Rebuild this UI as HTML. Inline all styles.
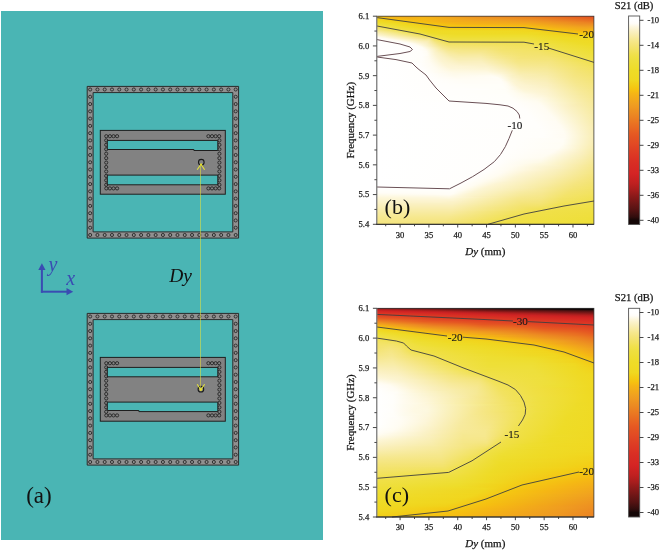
<!DOCTYPE html>
<html><head><meta charset="utf-8"><style>
html,body{margin:0;padding:0;background:#fff;}
body{width:660px;height:551px;position:relative;overflow:hidden;font-family:"Liberation Serif",serif;}
.hm{position:absolute;overflow:hidden;}
.hm>div{position:absolute;left:0;width:100%;height:1px;}
.ov{position:absolute;left:0;top:0;will-change:transform;}
.ov text.t{stroke:#1a1a1a;stroke-width:0.25px;}
.ov text.t2{stroke:#1a1a1a;stroke-width:0.12px;}
</style></head><body>
<div class="hm" style="left:377px;top:16px;width:217px;height:208px"><div style="top:0px;background:linear-gradient(90deg,#f5c411 0px,#f4b017 13px,#f3ab1a 32px,#f4b216 45px,#ee9421 94px,#ea7c22 155px,#e45223 216px)"></div><div style="top:1px;background:linear-gradient(90deg,#f4c813 0px,#f5b814 12px,#f3ae19 31px,#f5b316 46px,#ee9721 96px,#eb8522 151px,#e55722 216px)"></div><div style="top:2px;background:linear-gradient(90deg,#f3cd15 0px,#f6bb12 17px,#f4b216 33px,#f5b615 46px,#ef9b20 100px,#ee9221 130px,#eb8522 161px,#e65e22 216px)"></div><div style="top:3px;background:linear-gradient(90deg,#f1d41c 0px,#f6bf11 22px,#f5b714 36px,#f5b814 47px,#f09f20 100px,#ef9b20 122px,#ed8e22 157px,#e76622 216px)"></div><div style="top:4px;background:linear-gradient(90deg,#f0d922 0px,#f3cc14 17px,#f6bd11 38px,#f1a41e 100px,#f0a020 121px,#ee9621 154px,#e86e22 216px)"></div><div style="top:5px;background:linear-gradient(90deg,#efda25 0px,#f1d41c 17px,#f5c311 34px,#f3ae19 76px,#f2a91b 110px,#ef9d20 153px,#ea7622 216px)"></div><div style="top:6px;background:linear-gradient(90deg,#eedc29 0px,#f1d41c 23px,#f5c612 39px,#f5b714 64px,#f3ac19 104px,#f1a31e 152px,#eb7f22 216px)"></div><div style="top:7px;background:linear-gradient(90deg,#eede31 0px,#efda24 18px,#f2d21a 32px,#f5c411 51px,#f4b316 84px,#f2aa1b 151px,#ec8b22 203px,#ec8722 216px)"></div><div style="top:8px;background:linear-gradient(90deg,#eedf3a 0px,#efdb26 20px,#f1d31b 37px,#f5c612 55px,#f5b714 86px,#f3af18 152px,#ed9121 204px,#ed8f22 216px)"></div><div style="top:9px;background:linear-gradient(90deg,#f0e044 0px,#eedb26 25px,#f1d31b 43px,#f5c512 64px,#f6bc12 101px,#f5b615 150px,#ee9721 205px,#ee9621 216px)"></div><div style="top:10px;background:linear-gradient(90deg,#f1e154 0px,#f0e045 5px,#efdb26 31px,#f1d31b 48px,#f5c411 73px,#f6be11 150px,#f3ab1a 177px,#ef9d20 209px,#f09e20 216px)"></div><div style="top:11px;background:linear-gradient(90deg,#f2e266 0px,#f0e046 10px,#eedb26 36px,#f3cb14 68px,#f5c512 150px,#f4af18 180px,#f1a31f 209px,#f1a41e 216px)"></div><div style="top:12px;background:linear-gradient(90deg,#f4e475 0px,#f0e046 16px,#efdb26 42px,#f2ce16 78px,#f3cc14 150px,#f6bb12 171px,#f2a81c 207px,#f2aa1b 216px)"></div><div style="top:13px;background:linear-gradient(90deg,#f5e683 0px,#f0e045 22px,#efda24 48px,#f1d31b 81px,#f2d21a 150px,#f6bf11 176px,#f3ad19 205px,#f4af18 216px)"></div><div style="top:14px;background:linear-gradient(90deg,#f6e892 0px,#f0e046 27px,#efda24 52px,#f0d820 117px,#f1d61e 153px,#f5c311 179px,#f4b216 204px,#f5b316 216px)"></div><div style="top:15px;background:linear-gradient(90deg,#f8eba2 0px,#f0e045 33px,#efdb25 53px,#efda23 132px,#f1d51d 162px,#f5c311 188px,#f5b814 208px,#f5b913 216px)"></div><div style="top:16px;background:linear-gradient(90deg,#f9eeb1 0px,#f0e045 38px,#eedc27 54px,#f0d921 160px,#f5c311 196px,#f6bf10 216px)"></div><div style="top:17px;background:linear-gradient(90deg,#faf0c0 0px,#eedd2f 52px,#eedb27 66px,#efda24 158px,#f1d21a 181px,#f5c512 209px,#f5c411 216px)"></div><div style="top:18px;background:linear-gradient(90deg,#fbf3cc 0px,#f1e15a 42px,#efe042 48px,#eedd30 56px,#eedc28 80px,#eedc28 150px,#f1d31b 187px,#f4ca13 210px,#f4c913 216px)"></div><div style="top:19px;background:linear-gradient(90deg,#fdf6d8 0px,#f7ea9b 24px,#f2e25e 45px,#f0e045 50px,#eedf36 57px,#eedd2c 79px,#eedd2e 149px,#f1d41c 194px,#f3cd15 216px)"></div><div style="top:20px;background:linear-gradient(90deg,#fefae9 0px,#f7e997 31px,#f2e263 48px,#efe041 55px,#eede30 74px,#eede31 150px,#efda24 177px,#f2d119 216px)"></div><div style="top:21px;background:linear-gradient(90deg,#fffdf7 0px,#fcf3cd 16px,#f8eca8 31px,#f3e371 51px,#f3e371 52px,#f3e369 53px,#f1e14f 55px,#f0e045 58px,#eede35 74px,#eedf36 150px,#efdb25 179px,#f1d51d 216px)"></div><div style="top:22px;background:linear-gradient(90deg,#fffefa 0px,#fffcf2 8px,#fcf4d2 20px,#f8eca9 36px,#f5e788 48px,#f5e78a 52px,#f5e682 53px,#f3e367 55px,#f0e04a 60px,#eedf3a 74px,#eedf3b 149px,#efdb26 183px,#f0d820 216px)"></div><div style="top:23px;background:linear-gradient(90deg,#fffffe 0px,#fffcf3 13px,#f7ea9b 48px,#f7ea9a 52px,#f3e370 56px,#f0e04d 63px,#efdf3f 73px,#efdf3f 149px,#eedb26 187px,#f0d921 216px)"></div><div style="top:24px;background:linear-gradient(90deg,#ffffff 0px,#fffcf2 20px,#f9eeb3 43px,#f8eca5 52px,#f4e476 57px,#f1e152 65px,#f0e045 71px,#efe043 150px,#eedb27 191px,#efd923 216px)"></div><div style="top:25px;background:linear-gradient(90deg,#ffffff 0px,#fffdf7 23px,#fefae8 29px,#fbf2c7 40px,#f9eeb2 51px,#f7ea9c 54px,#f4e57c 58px,#f1e157 67px,#f0e049 72px,#f0e048 148px,#eedc27 195px,#efda24 216px)"></div><div style="top:26px;background:linear-gradient(90deg,#ffffff 0px,#fffefa 24px,#fffcf1 31px,#fcf4d2 40px,#faefbc 50px,#f7ea9c 55px,#f4e57c 60px,#f1e155 71px,#f1e14f 148px,#eedf37 173px,#eedb27 205px,#efda25 216px)"></div><div style="top:27px;background:linear-gradient(90deg,#ffffff 0px,#fffefb 27px,#fffdf5 34px,#fdf5d5 43px,#faf1c3 50px,#f5e685 60px,#f2e262 70px,#f2e25d 80px,#f1e153 149px,#efe042 165px,#eedc28 205px,#eedb26 216px)"></div><div style="top:28px;background:linear-gradient(90deg,#ffffff 0px,#fffefc 30px,#fffcf2 38px,#faf1c3 51px,#f5e685 62px,#f3e368 71px,#f1e157 150px,#efe043 168px,#eedc29 208px,#eedc27 216px)"></div><div style="top:29px;background:linear-gradient(90deg,#ffffff 0px,#fffefb 34px,#fffcf2 41px,#faf1c3 52px,#f5e789 63px,#f3e370 71px,#f2e264 118px,#f1e15a 152px,#efe043 172px,#eedd2b 210px,#eedc28 216px)"></div><div style="top:30px;background:linear-gradient(90deg,#ffffff 0px,#fffefc 35px,#fffdf4 43px,#f9eeb6 56px,#f5e789 65px,#f4e475 73px,#f3e36c 114px,#f2e265 129px,#f2e25b 155px,#efdf40 179px,#eedd2b 216px)"></div><div style="top:31px;background:linear-gradient(90deg,#ffffff 0px,#fffefc 37px,#fffdf4 45px,#f6e78c 66px,#f4e47b 74px,#f4e472 112px,#f3e368 127px,#f2e25d 157px,#efdf3f 184px,#eedd2d 216px)"></div><div style="top:32px;background:linear-gradient(90deg,#ffffff 0px,#fffefc 39px,#fffdf6 46px,#f6e88f 67px,#f5e580 76px,#f4e479 110px,#f3e36a 126px,#f2e25f 159px,#efe041 185px,#eedd30 216px)"></div><div style="top:33px;background:linear-gradient(90deg,#ffffff 0px,#fffefc 40px,#fffcf3 48px,#f7ea9b 66px,#f5e789 73px,#f5e683 89px,#f5e57f 109px,#f3e36d 125px,#f3e367 147px,#f2e25e 164px,#efe043 186px,#eede32 216px)"></div><div style="top:34px;background:linear-gradient(90deg,#ffffff 0px,#fffefc 42px,#fffcf2 49px,#f9eeb2 62px,#f6e890 72px,#f5e788 86px,#f5e686 107px,#f3e370 125px,#f3e368 146px,#f2e264 161px,#f1e153 177px,#f0e044 188px,#eede34 216px)"></div><div style="top:35px;background:linear-gradient(90deg,#ffffff 0px,#fffefb 43px,#fffdf6 49px,#fbf1c4 59px,#f7ea9c 70px,#f6e88d 80px,#f6e78b 107px,#f4e473 125px,#f3e36a 146px,#f3e367 161px,#f1e158 177px,#f0e045 191px,#eedf36 216px)"></div><div style="top:36px;background:linear-gradient(90deg,#ffffff 0px,#fffefb 44px,#fffcf3 50px,#fbf3cc 58px,#f7eb9f 71px,#f6e891 83px,#f6e892 104px,#f4e476 126px,#f3e36c 146px,#f3e36a 161px,#f2e25d 177px,#f0e045 194px,#eedf38 216px)"></div><div style="top:37px;background:linear-gradient(90deg,#ffffff 0px,#fffefb 44px,#fffdf5 50px,#fcf4cf 58px,#f8eba3 72px,#f7e996 83px,#f7e997 104px,#f4e479 127px,#f3e36e 146px,#f3e36c 161px,#f2e260 178px,#f0e046 197px,#eedf3a 216px)"></div><div style="top:38px;background:linear-gradient(90deg,#ffffff 0px,#fffefb 45px,#fffdf5 50px,#fcf4d1 58px,#f8eca7 73px,#f7ea9c 84px,#f7ea9e 103px,#f4e57c 127px,#f3e370 146px,#f3e36e 162px,#f2e264 178px,#f0e046 200px,#efdf3c 216px)"></div><div style="top:39px;background:linear-gradient(90deg,#ffffff 0px,#fffefb 45px,#fffdf6 50px,#fcf4d1 59px,#f8ecaa 74px,#f7eba1 85px,#f8eba3 103px,#f6e78b 118px,#f4e472 143px,#f3e371 162px,#f3e367 178px,#f0e046 204px,#efdf3f 216px)"></div><div style="top:40px;background:linear-gradient(90deg,#ffffff 0px,#fffefb 45px,#fffcf1 51px,#fcf4d0 60px,#f8edac 76px,#f8eca7 87px,#f8eca7 104px,#f5e683 128px,#f4e475 145px,#f3e372 170px,#f0e045 208px,#efe041 216px)"></div><div style="top:41px;background:linear-gradient(90deg,#ffffff 0px,#fffefb 45px,#fffcf2 51px,#fcf4d0 61px,#f8edae 78px,#f8edac 89px,#f8edac 104px,#f6e892 119px,#f4e477 144px,#f4e474 171px,#f0e046 211px,#efe043 216px)"></div><div style="top:42px;background:linear-gradient(90deg,#ffffff 0px,#fffefa 46px,#fffcf3 51px,#fcf4d0 62px,#f9eeb2 79px,#f9edb1 104px,#f7e997 119px,#f4e47a 142px,#f4e477 172px,#f0e046 214px,#f0e044 216px)"></div><div style="top:43px;background:linear-gradient(90deg,#ffffff 0px,#fffefa 46px,#fffcf1 52px,#fcf4d0 63px,#f9eeb4 81px,#f9eeb5 104px,#f7ea9d 119px,#f5e57f 140px,#f4e478 174px,#f0e046 216px)"></div><div style="top:44px;background:linear-gradient(90deg,#ffffff 0px,#fffefa 45px,#fffcf2 52px,#fcf4d1 64px,#f9efb8 82px,#f9efba 104px,#f7eba2 119px,#f5e682 140px,#f4e57b 174px,#f0e048 216px)"></div><div style="top:45px;background:linear-gradient(90deg,#ffffff 0px,#fffefa 45px,#fffcf3 52px,#fcf4d1 65px,#faf0bd 82px,#faf0be 104px,#f8eca7 119px,#f5e685 140px,#f5e57f 173px,#f0e04c 216px)"></div><div style="top:46px;background:linear-gradient(90deg,#ffffff 0px,#fffefb 43px,#fffcf2 53px,#fcf5d2 66px,#faf0c1 83px,#faf0c1 105px,#f8eca7 121px,#f5e787 141px,#f5e683 172px,#f1e150 216px)"></div><div style="top:47px;background:linear-gradient(90deg,#ffffff 0px,#fffefc 43px,#fffcf4 53px,#fcf5d3 67px,#fbf1c5 84px,#fbf1c4 106px,#f8eca8 123px,#f5e78a 142px,#f5e686 171px,#f1e153 216px)"></div><div style="top:48px;background:linear-gradient(90deg,#ffffff 0px,#fffefc 43px,#fffcf3 54px,#fdf5d4 68px,#fbf2c9 85px,#fbf2c7 107px,#f8edac 124px,#f6e88d 142px,#f5e789 171px,#f2e25e 209px,#f1e157 216px)"></div><div style="top:49px;background:linear-gradient(90deg,#ffffff 0px,#fffefc 43px,#fffcf2 55px,#fdf5d5 69px,#fcf3cd 87px,#fbf2ca 108px,#f9edaf 125px,#f6e890 143px,#f6e78c 170px,#f2e264 206px,#f1e15a 216px)"></div><div style="top:50px;background:linear-gradient(90deg,#ffffff 0px,#fffefc 44px,#fffcf2 56px,#fdf5d6 71px,#fcf4d1 95px,#fbf2ca 112px,#f6e994 143px,#f6e890 169px,#f3e366 206px,#f2e25d 216px)"></div><div style="top:51px;background:linear-gradient(90deg,#ffffff 0px,#fffefc 45px,#fffcf2 57px,#fdf6d7 72px,#fcf4cf 110px,#f9eeb5 127px,#f7e998 143px,#f6e893 169px,#f3e36b 204px,#f2e25f 216px)"></div><div style="top:52px;background:linear-gradient(90deg,#ffffff 0px,#fffefc 46px,#fffcf1 58px,#fdf6d9 74px,#fcf5d3 110px,#f9efba 127px,#f7ea9c 143px,#f6e996 169px,#f3e36f 202px,#f2e262 216px)"></div><div style="top:53px;background:linear-gradient(90deg,#ffffff 0px,#fffefc 47px,#fffcf1 59px,#fdf7dd 74px,#fdf6d6 110px,#faf0c1 126px,#f7eba0 143px,#f7e998 170px,#f3e372 201px,#f2e264 216px)"></div><div style="top:54px;background:linear-gradient(90deg,#ffffff 0px,#fffefc 48px,#fffcf1 60px,#fef8e0 74px,#fdf7dc 109px,#fbf1c6 126px,#f8eba3 143px,#f7ea9b 170px,#f4e474 201px,#f3e366 216px)"></div><div style="top:55px;background:linear-gradient(90deg,#ffffff 0px,#fffefc 49px,#fffcf0 62px,#fef9e3 76px,#fef8e0 110px,#fbf2c8 127px,#f8eca7 143px,#f7ea9e 170px,#f4e476 201px,#f3e369 216px)"></div><div style="top:56px;background:linear-gradient(90deg,#ffffff 0px,#fffefc 50px,#fffbef 64px,#fef9e6 78px,#fef9e4 111px,#fcf4cf 126px,#f8edab 143px,#f7eba1 170px,#f4e479 200px,#f3e36b 216px)"></div><div style="top:57px;background:linear-gradient(90deg,#ffffff 0px,#fffefc 51px,#fefae9 76px,#fefae8 113px,#fdf6d9 123px,#f9edaf 143px,#f8eba4 170px,#f4e57c 199px,#f3e36d 216px)"></div><div style="top:58px;background:linear-gradient(90deg,#ffffff 0px,#fffefc 52px,#fefaeb 77px,#fefbec 114px,#fef8e0 123px,#f9eeb4 142px,#f8edad 159px,#f7eba0 175px,#f5e57e 198px,#f3e36f 216px)"></div><div style="top:59px;background:linear-gradient(90deg,#ffffff 0px,#fffefc 52px,#fefbed 77px,#fffcf1 115px,#fef9e6 123px,#faf1c2 136px,#f9eeb2 148px,#f8ecaa 169px,#f5e580 198px,#f3e371 216px)"></div><div style="top:60px;background:linear-gradient(90deg,#ffffff 0px,#fffefc 53px,#fffbef 78px,#fffdf4 117px,#fefae8 124px,#fbf3ca 134px,#f9eeb6 147px,#f8edad 169px,#f5e683 197px,#f4e472 216px)"></div><div style="top:61px;background:linear-gradient(90deg,#ffffff 0px,#fffefc 54px,#fffcf1 80px,#fffdf6 120px,#fef9e3 127px,#fbf2c9 136px,#f9efb8 148px,#f9edaf 169px,#f5e685 197px,#f4e474 216px)"></div><div style="top:62px;background:linear-gradient(90deg,#ffffff 0px,#fffefc 54px,#fffcf3 81px,#fffdf6 122px,#fcf4ce 135px,#faefbb 148px,#f9eeb2 169px,#f5e787 197px,#f4e476 216px)"></div><div style="top:63px;background:linear-gradient(90deg,#ffffff 0px,#fffefc 55px,#fffdf5 83px,#fffdf6 124px,#fcf5d3 134px,#faf0bf 147px,#f9eeb4 169px,#f5e789 197px,#f4e478 216px)"></div><div style="top:64px;background:linear-gradient(90deg,#ffffff 0px,#fffefc 56px,#fffdf6 85px,#fffdf7 124px,#fdf7dc 132px,#fbf1c4 144px,#f9eeb6 170px,#f6e78b 197px,#f4e479 216px)"></div><div style="top:65px;background:linear-gradient(90deg,#ffffff 0px,#fffefc 57px,#fffdf7 87px,#fffdf8 124px,#fffbef 128px,#fcf5d4 136px,#faf1c4 148px,#f9efb9 169px,#f6e78c 198px,#f4e57b 216px)"></div><div style="top:66px;background:linear-gradient(90deg,#ffffff 0px,#fffefc 58px,#fffdf7 89px,#fffdf8 125px,#fffbef 129px,#fdf5d4 137px,#fbf1c6 149px,#faefbc 169px,#f6e78c 199px,#f4e57d 216px)"></div><div style="top:67px;background:linear-gradient(90deg,#ffffff 0px,#fffefc 59px,#fffdf8 91px,#fffdf8 125px,#fffcf2 129px,#fdf5d4 138px,#fbf2c7 151px,#faefbd 170px,#f6e88e 199px,#f5e57f 216px)"></div><div style="top:68px;background:linear-gradient(90deg,#ffffff 0px,#fffefc 60px,#fffef9 93px,#fffef9 125px,#fffcf1 130px,#fdf5d5 139px,#fbf2c9 153px,#faf0be 171px,#f6e88f 200px,#f5e580 216px)"></div><div style="top:69px;background:linear-gradient(90deg,#ffffff 0px,#fffefc 61px,#fffef9 95px,#fffef9 125px,#fffcf3 130px,#fdf5d5 140px,#fbf3cb 156px,#faefbd 173px,#f6e891 200px,#f5e682 216px)"></div><div style="top:70px;background:linear-gradient(90deg,#ffffff 0px,#fffefc 62px,#fffefa 97px,#fffef9 126px,#fffcf3 131px,#fdf5d5 142px,#faf1c3 170px,#f6e892 201px,#f5e683 216px)"></div><div style="top:71px;background:linear-gradient(90deg,#ffffff 0px,#fffefc 63px,#fffefa 99px,#fffef9 127px,#fffbef 133px,#fdf5d6 143px,#fbf1c5 170px,#f6e994 201px,#f5e685 216px)"></div><div style="top:72px;background:linear-gradient(90deg,#ffffff 0px,#fffefc 64px,#fffefb 101px,#fffef8 128px,#fefbee 134px,#fdf6d7 144px,#fbf2c9 169px,#f6e995 202px,#f5e686 216px)"></div><div style="top:73px;background:linear-gradient(90deg,#ffffff 0px,#fffefc 65px,#fffefc 105px,#fffdf7 130px,#fef9e6 138px,#fdf6d6 148px,#fbf3cb 169px,#f7e997 202px,#f5e788 216px)"></div><div style="top:74px;background:linear-gradient(90deg,#ffffff 0px,#fffefc 66px,#fffef9 128px,#fffcf1 135px,#fdf6da 147px,#fcf3cd 169px,#f7e997 203px,#f5e789 216px)"></div><div style="top:75px;background:linear-gradient(90deg,#ffffff 0px,#fffefc 68px,#fffef9 128px,#fffcf1 136px,#fdf7dc 148px,#fcf3cd 170px,#f7ea99 203px,#f6e78a 216px)"></div><div style="top:76px;background:linear-gradient(90deg,#ffffff 0px,#fffefc 69px,#fffef9 129px,#fffcf1 137px,#fdf8df 149px,#fcf3ce 171px,#f7ea9b 203px,#f6e78c 216px)"></div><div style="top:77px;background:linear-gradient(90deg,#ffffff 0px,#fffefc 70px,#fffef9 130px,#fffcf2 138px,#fef8e1 151px,#fcf4d1 170px,#f7ea9d 203px,#f6e88d 216px)"></div><div style="top:78px;background:linear-gradient(90deg,#ffffff 0px,#fffefc 72px,#fffefa 130px,#fffcf0 140px,#fef8e2 155px,#fcf3cd 174px,#f7ea9e 203px,#f6e88e 216px)"></div><div style="top:79px;background:linear-gradient(90deg,#ffffff 0px,#fffefc 75px,#fffefa 131px,#fffcf0 142px,#fdf6da 166px,#f7ea9e 205px,#f6e890 216px)"></div><div style="top:80px;background:linear-gradient(90deg,#ffffff 0px,#fffefa 132px,#fffbef 145px,#fdf7dc 166px,#f7eba1 204px,#f6e891 216px)"></div><div style="top:81px;background:linear-gradient(90deg,#ffffff 0px,#fffefa 133px,#fef8e1 165px,#f8eba3 203px,#f6e892 216px)"></div><div style="top:82px;background:linear-gradient(90deg,#ffffff 0px,#fffefa 134px,#fef9e5 164px,#f8eca5 203px,#f6e994 216px)"></div><div style="top:83px;background:linear-gradient(90deg,#ffffff 0px,#fffefa 135px,#fefaea 162px,#f8eca7 203px,#f6e995 216px)"></div><div style="top:84px;background:linear-gradient(90deg,#ffffff 0px,#fffefa 136px,#fefbee 160px,#f8eca6 205px,#f7e996 216px)"></div><div style="top:85px;background:linear-gradient(90deg,#ffffff 0px,#fffefb 137px,#fffcf0 160px,#f8eca7 205px,#f7e998 216px)"></div><div style="top:86px;background:linear-gradient(90deg,#ffffff 0px,#fffefb 138px,#fffcf1 161px,#f8eca8 206px,#f7e999 216px)"></div><div style="top:87px;background:linear-gradient(90deg,#ffffff 0px,#fffefc 138px,#fffcf2 162px,#f9edaf 202px,#f7ea9a 216px)"></div><div style="top:88px;background:linear-gradient(90deg,#ffffff 0px,#fffefc 139px,#fffcf2 163px,#f9eeb6 198px,#f7ea9b 216px)"></div><div style="top:89px;background:linear-gradient(90deg,#ffffff 0px,#fffefc 141px,#fffcf3 164px,#faefbc 195px,#f7ea9c 216px)"></div><div style="top:90px;background:linear-gradient(90deg,#ffffff 0px,#fffefc 142px,#fffcf3 165px,#faf0c1 193px,#f7ea9e 216px)"></div><div style="top:91px;background:linear-gradient(90deg,#ffffff 0px,#fffefc 143px,#fffcf3 166px,#fbf1c4 192px,#f7ea9f 216px)"></div><div style="top:92px;background:linear-gradient(90deg,#ffffff 0px,#fffefc 145px,#fffcf3 167px,#fbf2c7 191px,#f7eba0 216px)"></div><div style="top:93px;background:linear-gradient(90deg,#ffffff 0px,#fffefc 146px,#fffcf3 168px,#fbf2c9 191px,#f7eba1 216px)"></div><div style="top:94px;background:linear-gradient(90deg,#ffffff 0px,#fffefc 148px,#fffcf3 169px,#fbf3cb 191px,#f7eba2 216px)"></div><div style="top:95px;background:linear-gradient(90deg,#ffffff 0px,#fffefc 149px,#fffcf3 170px,#fbf3cb 192px,#f8eba3 216px)"></div><div style="top:96px;background:linear-gradient(90deg,#ffffff 0px,#fffefc 150px,#fffcf3 171px,#fbf3cb 193px,#f8eba4 216px)"></div><div style="top:97px;background:linear-gradient(90deg,#ffffff 0px,#fffefc 151px,#fffcf3 172px,#fcf3cc 193px,#f8eba5 216px)"></div><div style="top:98px;background:linear-gradient(90deg,#ffffff 0px,#fffefc 152px,#fffcf3 173px,#fbf3cb 195px,#f8eca6 216px)"></div><div style="top:99px;background:linear-gradient(90deg,#ffffff 0px,#fffefc 153px,#fffcf3 174px,#fbf3cb 196px,#f8eca7 216px)"></div><div style="top:100px;background:linear-gradient(90deg,#ffffff 0px,#fffefc 153px,#fffcf3 175px,#fbf3ca 197px,#f8eca8 216px)"></div><div style="top:101px;background:linear-gradient(90deg,#ffffff 0px,#fffefc 154px,#fffcf3 176px,#fbf2c9 199px,#f8eca9 216px)"></div><div style="top:102px;background:linear-gradient(90deg,#ffffff 0px,#fffefc 155px,#fffcf2 177px,#faf1c3 203px,#f8ecaa 216px)"></div><div style="top:103px;background:linear-gradient(90deg,#ffffff 0px,#fffefc 156px,#fffcf2 178px,#f8ecab 216px)"></div><div style="top:104px;background:linear-gradient(90deg,#ffffff 0px,#fffefc 156px,#fffcf2 179px,#f8edac 216px)"></div><div style="top:105px;background:linear-gradient(90deg,#ffffff 0px,#fffefc 157px,#fffcf4 179px,#f8edad 216px)"></div><div style="top:106px;background:linear-gradient(90deg,#ffffff 0px,#fffefc 158px,#fffcf3 180px,#f8edae 216px)"></div><div style="top:107px;background:linear-gradient(90deg,#ffffff 0px,#fffefc 159px,#fffcf3 181px,#f9edaf 216px)"></div><div style="top:108px;background:linear-gradient(90deg,#ffffff 0px,#fffefc 160px,#fffcf3 182px,#f9edb0 216px)"></div><div style="top:109px;background:linear-gradient(90deg,#ffffff 0px,#fffefc 160px,#fffcf3 183px,#f9edb1 216px)"></div><div style="top:110px;background:linear-gradient(90deg,#ffffff 0px,#fffefc 161px,#fffcf4 183px,#f9eeb2 216px)"></div><div style="top:111px;background:linear-gradient(90deg,#ffffff 0px,#fffefc 162px,#fffcf3 184px,#f9eeb3 216px)"></div><div style="top:112px;background:linear-gradient(90deg,#ffffff 0px,#fffefb 163px,#fffcf3 185px,#f9eeb3 216px)"></div><div style="top:113px;background:linear-gradient(90deg,#ffffff 0px,#fffefb 164px,#fffcf4 185px,#f9eeb4 216px)"></div><div style="top:114px;background:linear-gradient(90deg,#ffffff 0px,#fffefb 165px,#fffcf3 186px,#f9eeb5 216px)"></div><div style="top:115px;background:linear-gradient(90deg,#ffffff 0px,#fffefb 165px,#fffdf4 186px,#f9eeb6 216px)"></div><div style="top:116px;background:linear-gradient(90deg,#ffffff 0px,#fffefb 166px,#fffcf3 187px,#f9eeb6 216px)"></div><div style="top:117px;background:linear-gradient(90deg,#ffffff 0px,#fffefb 166px,#fffcf4 187px,#f9eeb7 216px)"></div><div style="top:118px;background:linear-gradient(90deg,#ffffff 0px,#fffefb 166px,#fffcf2 188px,#faf0c2 211px,#f9eeb7 216px)"></div><div style="top:119px;background:linear-gradient(90deg,#ffffff 0px,#fffefb 166px,#fffcf3 188px,#f9efb7 216px)"></div><div style="top:120px;background:linear-gradient(90deg,#ffffff 0px,#fffefb 166px,#fffcf3 188px,#f9efb7 216px)"></div><div style="top:121px;background:linear-gradient(90deg,#ffffff 0px,#fffefb 166px,#fffcf3 188px,#f9efb7 216px)"></div><div style="top:122px;background:linear-gradient(90deg,#ffffff 0px,#fffefc 142px,#fffdf5 187px,#f9eeb7 216px)"></div><div style="top:123px;background:linear-gradient(90deg,#ffffff 0px,#fffefc 140px,#fffdf6 186px,#f9eeb7 216px)"></div><div style="top:124px;background:linear-gradient(90deg,#ffffff 0px,#fffefc 139px,#fffdf6 186px,#f9eeb6 216px)"></div><div style="top:125px;background:linear-gradient(90deg,#ffffff 0px,#fffefc 138px,#fffdf6 186px,#f9eeb5 216px)"></div><div style="top:126px;background:linear-gradient(90deg,#ffffff 0px,#fffefc 138px,#fffdf5 186px,#f9eeb5 216px)"></div><div style="top:127px;background:linear-gradient(90deg,#ffffff 0px,#fffefc 137px,#fffdf4 186px,#f9eeb4 216px)"></div><div style="top:128px;background:linear-gradient(90deg,#ffffff 0px,#fffefc 136px,#fffdf5 185px,#f9eeb3 216px)"></div><div style="top:129px;background:linear-gradient(90deg,#ffffff 0px,#fffefc 136px,#fffdf5 184px,#fdf6da 197px,#f9eeb2 216px)"></div><div style="top:130px;background:linear-gradient(90deg,#ffffff 0px,#fffefc 135px,#fffdf5 183px,#fdf7db 196px,#f9edb0 216px)"></div><div style="top:131px;background:linear-gradient(90deg,#ffffff 0px,#fffefc 134px,#fffdf5 182px,#fdf7dd 195px,#f9edaf 216px)"></div><div style="top:132px;background:linear-gradient(90deg,#ffffff 0px,#fffefc 134px,#fffdf4 181px,#fdf7db 195px,#f8edae 216px)"></div><div style="top:133px;background:linear-gradient(90deg,#ffffff 0px,#fffefc 133px,#fffcf3 180px,#fdf6d8 195px,#f8edac 216px)"></div><div style="top:134px;background:linear-gradient(90deg,#ffffff 0px,#fffefc 132px,#fffcf4 178px,#fcf5d3 197px,#f8ecab 216px)"></div><div style="top:135px;background:linear-gradient(90deg,#ffffff 0px,#fffefc 131px,#fffcf4 176px,#fcf3cd 199px,#f8eca9 216px)"></div><div style="top:136px;background:linear-gradient(90deg,#ffffff 0px,#fffefc 131px,#fffcf3 175px,#faf0c2 204px,#f8eca7 216px)"></div><div style="top:137px;background:linear-gradient(90deg,#ffffff 0px,#fffefc 130px,#fffcf3 173px,#faefbc 206px,#f8eca6 216px)"></div><div style="top:138px;background:linear-gradient(90deg,#ffffff 0px,#fffefc 129px,#fffcf2 171px,#faefbc 205px,#f8eba4 216px)"></div><div style="top:139px;background:linear-gradient(90deg,#ffffff 0px,#fffefc 128px,#fffcf2 169px,#f9efb9 205px,#f8eba2 216px)"></div><div style="top:140px;background:linear-gradient(90deg,#ffffff 0px,#fffefc 127px,#fffcf2 167px,#f9efb9 204px,#f7eba0 216px)"></div><div style="top:141px;background:linear-gradient(90deg,#ffffff 0px,#fffefc 127px,#fffcf1 165px,#f9eeb7 204px,#f7ea9f 216px)"></div><div style="top:142px;background:linear-gradient(90deg,#ffffff 0px,#fffefc 126px,#fffbef 165px,#f9eeb3 205px,#f7ea9d 216px)"></div><div style="top:143px;background:linear-gradient(90deg,#ffffff 0px,#fffefc 125px,#fefbec 165px,#f9edb0 205px,#f7ea9b 216px)"></div><div style="top:144px;background:linear-gradient(90deg,#ffffff 0px,#fffefc 124px,#fefaea 164px,#f8edac 206px,#f7e999 216px)"></div><div style="top:145px;background:linear-gradient(90deg,#ffffff 0px,#fffefc 123px,#fefae8 163px,#f8edac 205px,#f7e997 216px)"></div><div style="top:146px;background:linear-gradient(90deg,#ffffff 0px,#fffefc 122px,#fefae7 161px,#f9edae 202px,#f6e995 216px)"></div><div style="top:147px;background:linear-gradient(90deg,#ffffff 0px,#fffefc 121px,#fefbed 148px,#fdf7da 169px,#f8eca7 205px,#f6e993 216px)"></div><div style="top:148px;background:linear-gradient(90deg,#ffffff 0px,#fffefc 120px,#fffbef 142px,#fdf6d6 170px,#f8eba4 205px,#f6e891 216px)"></div><div style="top:149px;background:linear-gradient(90deg,#ffffff 0px,#fffefc 118px,#fffcf0 139px,#fbf3cb 178px,#f6e88f 216px)"></div><div style="top:150px;background:linear-gradient(90deg,#ffffff 0px,#fffefc 117px,#fffcf1 136px,#faf1c3 182px,#f6e88e 216px)"></div><div style="top:151px;background:linear-gradient(90deg,#ffffff 0px,#fffefc 115px,#fffcf1 134px,#faf0c0 182px,#f6e78c 216px)"></div><div style="top:152px;background:linear-gradient(90deg,#ffffff 0px,#fffefc 114px,#fffcf1 132px,#faf0be 182px,#f6e78a 216px)"></div><div style="top:153px;background:linear-gradient(90deg,#ffffff 0px,#fffefc 112px,#fffcf2 130px,#fdf5d4 159px,#f9eeb6 185px,#f5e789 216px)"></div><div style="top:154px;background:linear-gradient(90deg,#ffffff 0px,#fffefc 111px,#fffcf1 129px,#fdf5d5 155px,#f9efba 181px,#f5e687 216px)"></div><div style="top:155px;background:linear-gradient(90deg,#ffffff 0px,#fffefc 109px,#fffcf1 127px,#fdf5d5 151px,#f9efba 179px,#f5e685 216px)"></div><div style="top:156px;background:linear-gradient(90deg,#ffffff 0px,#fffefc 108px,#fffcf2 125px,#fdf5d5 148px,#f9efb8 178px,#f5e683 216px)"></div><div style="top:157px;background:linear-gradient(90deg,#ffffff 0px,#fffefc 106px,#fffcf2 123px,#fdf5d5 145px,#f9efb7 177px,#f5e682 216px)"></div><div style="top:158px;background:linear-gradient(90deg,#ffffff 0px,#fffefc 104px,#fffcf1 122px,#fdf5d4 143px,#f9eeb6 176px,#f5e581 215px,#f5e580 216px)"></div><div style="top:159px;background:linear-gradient(90deg,#ffffff 0px,#fffefc 102px,#fffcf1 120px,#fcf5d4 141px,#f9eeb3 176px,#f5e681 213px,#f5e57e 216px)"></div><div style="top:160px;background:linear-gradient(90deg,#ffffff 0px,#fffefc 100px,#fffcf1 118px,#fcf5d3 139px,#f9eeb1 175px,#f5e581 212px,#f4e57c 216px)"></div><div style="top:161px;background:linear-gradient(90deg,#ffffff 0px,#fffefc 99px,#fffcf0 116px,#fcf4d2 138px,#f9edb0 174px,#f5e581 210px,#f4e47b 216px)"></div><div style="top:162px;background:linear-gradient(90deg,#ffffff 0px,#fffefc 97px,#fffcf1 113px,#fcf4d0 137px,#f8edae 173px,#f5e57f 210px,#f4e479 216px)"></div><div style="top:163px;background:linear-gradient(90deg,#ffffff 0px,#fffefc 95px,#fffcf1 110px,#fcf4cf 136px,#f8edac 172px,#f5e57f 208px,#f4e477 216px)"></div><div style="top:164px;background:linear-gradient(90deg,#ffffff 0px,#fffefc 93px,#fffcf1 108px,#fcf3cd 136px,#f8eca9 172px,#f5e580 205px,#f4e475 216px)"></div><div style="top:165px;background:linear-gradient(90deg,#ffffff 0px,#fffefc 91px,#fffcf2 105px,#fcf3cd 133px,#f8eca8 171px,#f5e581 202px,#f4e474 216px)"></div><div style="top:166px;background:linear-gradient(90deg,#ffffff 0px,#fffefc 89px,#fffcf1 103px,#fcf4d1 126px,#f8eca5 171px,#f5e580 200px,#f3e372 216px)"></div><div style="top:167px;background:linear-gradient(90deg,#ffffff 0px,#fffefc 87px,#fffcf1 101px,#fdf5d4 120px,#f8eba4 170px,#f5e580 198px,#f3e370 216px)"></div><div style="top:168px;background:linear-gradient(90deg,#ffffff 0px,#fffefc 85px,#fffcf2 98px,#fdf5d4 117px,#f8eba2 169px,#f5e57e 197px,#f3e36e 216px)"></div><div style="top:169px;background:linear-gradient(90deg,#ffffff 0px,#fffefc 83px,#fffcf2 96px,#fdf5d4 114px,#f7eba1 168px,#f4e57d 196px,#f3e36d 216px)"></div><div style="top:170px;background:linear-gradient(90deg,#ffffff 0px,#fffefc 81px,#fffcf1 94px,#fdf5d4 111px,#f7ea9e 168px,#f4e479 197px,#f3e36b 216px)"></div><div style="top:171px;background:linear-gradient(90deg,#fffffe 0px,#fffefc 79px,#fffcf1 92px,#fdf5d4 108px,#f8ecaa 155px,#f4e476 198px,#f3e369 216px)"></div><div style="top:172px;background:linear-gradient(90deg,#fffffd 0px,#fffefc 77px,#fffcf2 89px,#fcf5d3 106px,#f8ecaa 151px,#f6e995 170px,#f4e474 197px,#f3e368 216px)"></div><div style="top:173px;background:linear-gradient(90deg,#fffefb 0px,#fffefc 76px,#fffcf2 87px,#fcf5d4 103px,#f8eca9 148px,#f7e997 167px,#f4e473 195px,#f2e266 216px)"></div><div style="top:174px;background:linear-gradient(90deg,#fffefa 0px,#fffefa 77px,#fffcf1 85px,#fcf5d3 101px,#f8eca6 147px,#f7e996 166px,#f3e372 194px,#f2e264 216px)"></div><div style="top:175px;background:linear-gradient(90deg,#fffef8 0px,#fffef8 77px,#fefbee 84px,#fcf5d3 98px,#f8eba3 145px,#f6e995 165px,#f3e370 193px,#f2e262 216px)"></div><div style="top:176px;background:linear-gradient(90deg,#fffdf7 0px,#fffdf7 77px,#fcf5d3 96px,#f7eba0 144px,#f6e892 165px,#f3e36e 192px,#f2e260 216px)"></div><div style="top:177px;background:linear-gradient(90deg,#fffcf3 0px,#fffdf6 76px,#fdf5d4 92px,#f7ea9d 143px,#f6e890 164px,#f3e36c 192px,#f2e25f 216px)"></div><div style="top:178px;background:linear-gradient(90deg,#fefbed 0px,#fffcf2 58px,#fffdf5 73px,#fcf5d2 91px,#f7ea99 143px,#f6e78d 165px,#f3e36b 190px,#f2e25c 216px)"></div><div style="top:179px;background:linear-gradient(90deg,#fefae7 0px,#fefaeb 57px,#fffbef 72px,#fcf4cf 91px,#f6e995 144px,#f6e78a 165px,#f3e369 189px,#f2e25a 216px)"></div><div style="top:180px;background:linear-gradient(90deg,#fef8e1 0px,#fef9e4 57px,#fefae8 72px,#fbf1c4 97px,#f6e891 144px,#f5e788 165px,#f3e368 188px,#f1e158 216px)"></div><div style="top:181px;background:linear-gradient(90deg,#fdf7db 0px,#fdf7de 57px,#fef8e2 72px,#f6e88f 141px,#f5e685 165px,#f3e366 187px,#f1e156 216px)"></div><div style="top:182px;background:linear-gradient(90deg,#fdf6d6 0px,#fdf6d9 59px,#fdf7db 72px,#f6e78b 141px,#f5e683 164px,#f2e264 186px,#f1e154 216px)"></div><div style="top:183px;background:linear-gradient(90deg,#fcf5d3 0px,#fdf5d5 60px,#fcf5d3 76px,#f5e788 141px,#f5e580 164px,#f2e263 185px,#f1e152 216px)"></div><div style="top:184px;background:linear-gradient(90deg,#fcf4cf 0px,#fcf4d1 61px,#fcf4cf 76px,#f5e684 141px,#f4e57d 164px,#f2e261 184px,#f1e150 216px)"></div><div style="top:185px;background:linear-gradient(90deg,#fbf3cb 0px,#fcf3ce 62px,#fbf2c9 78px,#f5e581 141px,#f4e47a 164px,#f2e25f 183px,#f0e04e 216px)"></div><div style="top:186px;background:linear-gradient(90deg,#fbf2c8 0px,#fbf3ca 63px,#fbf1c4 79px,#f4e57c 143px,#f4e477 164px,#f2e25c 183px,#f0e04c 216px)"></div><div style="top:187px;background:linear-gradient(90deg,#fbf1c4 0px,#faf1c4 75px,#f4e477 145px,#f4e473 164px,#f1e159 182px,#f0e04a 216px)"></div><div style="top:188px;background:linear-gradient(90deg,#faf0c0 0px,#faf0c0 75px,#f4e473 145px,#f3e36f 164px,#f1e156 182px,#f0e048 216px)"></div><div style="top:189px;background:linear-gradient(90deg,#faefbd 0px,#faefbb 75px,#f3e370 145px,#f3e36a 164px,#f1e154 181px,#f0e047 216px)"></div><div style="top:190px;background:linear-gradient(90deg,#f9efb9 0px,#f9efb7 75px,#f3e36c 145px,#f2e264 165px,#f1e150 182px,#f0e046 216px)"></div><div style="top:191px;background:linear-gradient(90deg,#f9eeb5 0px,#f9eeb3 75px,#f5e684 119px,#f2e266 149px,#f2e25e 165px,#f0e04d 183px,#f0e045 216px)"></div><div style="top:192px;background:linear-gradient(90deg,#f9edb1 0px,#f9edaf 75px,#f5e682 118px,#f2e262 150px,#f1e157 166px,#f0e048 189px,#efe044 216px)"></div><div style="top:193px;background:linear-gradient(90deg,#f8edad 0px,#f8ecab 75px,#f2e25d 151px,#f0e047 185px,#efe043 216px)"></div><div style="top:194px;background:linear-gradient(90deg,#f8eca9 0px,#f8eca7 75px,#f1e157 154px,#f0e047 180px,#efe042 216px)"></div><div style="top:195px;background:linear-gradient(90deg,#f8eca5 0px,#f8eba3 74px,#f2e264 135px,#f0e047 171px,#efe041 216px)"></div><div style="top:196px;background:linear-gradient(90deg,#f7eba2 0px,#f7ea9f 74px,#f2e263 133px,#f0e048 164px,#efdf40 216px)"></div><div style="top:197px;background:linear-gradient(90deg,#f7ea9e 0px,#f7ea9b 74px,#f2e261 132px,#f0e048 159px,#efdf3f 216px)"></div><div style="top:198px;background:linear-gradient(90deg,#f7ea9a 0px,#f7e997 73px,#f2e25f 131px,#f0e048 155px,#efdf3e 216px)"></div><div style="top:199px;background:linear-gradient(90deg,#f7e997 0px,#f6e993 72px,#f4e57b 99px,#f1e158 133px,#f0e047 154px,#efdf3d 216px)"></div><div style="top:200px;background:linear-gradient(90deg,#f6e993 0px,#f6e88f 71px,#f4e57c 95px,#f0e047 149px,#efdf3c 216px)"></div><div style="top:201px;background:linear-gradient(90deg,#f6e890 0px,#f6e78c 71px,#f4e476 97px,#f0e047 146px,#eedf3b 216px)"></div><div style="top:202px;background:linear-gradient(90deg,#f6e78d 0px,#f5e789 70px,#f4e472 98px,#f0e046 143px,#eedf3a 216px)"></div><div style="top:203px;background:linear-gradient(90deg,#f6e78a 0px,#f5e686 69px,#f3e36e 99px,#f0e046 140px,#eedf3a 216px)"></div><div style="top:204px;background:linear-gradient(90deg,#f5e787 0px,#f5e683 68px,#f3e369 101px,#f0e046 136px,#eedf39 216px)"></div><div style="top:205px;background:linear-gradient(90deg,#f5e685 0px,#f5e581 67px,#f2e265 102px,#f0e046 133px,#eedf38 216px)"></div><div style="top:206px;background:linear-gradient(90deg,#f5e682 0px,#f4e57e 67px,#f2e260 103px,#f0e046 130px,#eedf37 216px)"></div><div style="top:207px;background:linear-gradient(90deg,#f5e57f 0px,#f4e47b 66px,#f2e25e 102px,#f0e046 127px,#eedf36 216px)"></div></div>
<div class="hm" style="left:377px;top:308px;width:217px;height:209px"><div style="top:0px;background:linear-gradient(90deg,#831818 0px,#410f0f 80px,#270a0a 102px,#120505 123px,#080202 157px,#080202 216px)"></div><div style="top:1px;background:linear-gradient(90deg,#b11e1e 0px,#531212 107px,#1b0808 185px,#0e0404 213px,#0d0404 216px)"></div><div style="top:2px;background:linear-gradient(90deg,#cb2222 0px,#ad1e1e 45px,#721616 109px,#380e0e 216px)"></div><div style="top:3px;background:linear-gradient(90deg,#d62824 0px,#cd2222 31px,#b31f1f 73px,#8a1919 121px,#5f1414 197px,#571313 216px)"></div><div style="top:4px;background:linear-gradient(90deg,#d92e24 0px,#cf2323 58px,#ae1e1e 115px,#7f1818 183px,#6f1616 216px)"></div><div style="top:5px;background:linear-gradient(90deg,#dc3624 0px,#d02323 86px,#ac1e1e 156px,#861919 216px)"></div><div style="top:6px;background:linear-gradient(90deg,#dd3b24 0px,#d02323 117px,#b01e1e 187px,#9e1c1c 216px)"></div><div style="top:7px;background:linear-gradient(90deg,#df4224 0px,#d62824 113px,#ce2323 155px,#b41f1f 216px)"></div><div style="top:8px;background:linear-gradient(90deg,#e24b23 0px,#dc3824 59px,#d02323 179px,#c42020 216px)"></div><div style="top:9px;background:linear-gradient(90deg,#e45423 0px,#dd3a24 68px,#d02323 209px,#ce2323 216px)"></div><div style="top:10px;background:linear-gradient(90deg,#e75e22 0px,#df4224 60px,#d72a24 181px,#d52524 216px)"></div><div style="top:11px;background:linear-gradient(90deg,#e86c22 0px,#e14924 57px,#dc3724 129px,#d72924 216px)"></div><div style="top:12px;background:linear-gradient(90deg,#ea7922 0px,#e35023 56px,#e04424 93px,#da2f24 194px,#d82c24 216px)"></div><div style="top:13px;background:linear-gradient(90deg,#ec8622 0px,#e65c22 47px,#e55722 62px,#e04524 111px,#da2f24 216px)"></div><div style="top:14px;background:linear-gradient(90deg,#ee9221 0px,#e86722 47px,#e76022 59px,#e35123 94px,#e24b23 112px,#dd3824 186px,#db3324 216px)"></div><div style="top:15px;background:linear-gradient(90deg,#f09e20 0px,#e97222 47px,#e86a22 60px,#e65d22 88px,#e45123 107px,#e14724 146px,#dd3924 196px,#dc3724 216px)"></div><div style="top:16px;background:linear-gradient(90deg,#f2a91b 0px,#ec8822 37px,#e97522 57px,#e86822 86px,#e55822 104px,#e35123 139px,#e04324 172px,#dd3924 216px)"></div><div style="top:17px;background:linear-gradient(90deg,#f5b316 0px,#ef9821 29px,#eb7e22 58px,#e97022 88px,#e76022 106px,#e65a22 132px,#e14824 171px,#de3c24 216px)"></div><div style="top:18px;background:linear-gradient(90deg,#f6c110 0px,#f3ac1a 16px,#ec8d22 50px,#ea7822 89px,#e86922 106px,#e76222 133px,#e34d23 168px,#df3f24 216px)"></div><div style="top:19px;background:linear-gradient(90deg,#f3cc14 0px,#f6bb12 12px,#ee9621 50px,#eb8022 90px,#e97222 107px,#e86a22 134px,#e45323 166px,#e14824 204px,#e04324 216px)"></div><div style="top:20px;background:linear-gradient(90deg,#f1d61e 0px,#f5c311 15px,#f3ac19 35px,#ee9721 63px,#eb8522 93px,#ea7b22 109px,#e97022 138px,#e55822 166px,#e34e23 202px,#e14724 216px)"></div><div style="top:21px;background:linear-gradient(90deg,#efd922 0px,#f3ce16 14px,#f6bb12 29px,#f0a020 62px,#ec8b22 95px,#eb8322 114px,#e97222 145px,#e75e22 167px,#e45123 204px,#e24b23 216px)"></div><div style="top:22px;background:linear-gradient(90deg,#efdb25 0px,#f1d31b 17px,#f6c010 34px,#f2a91b 58px,#ed9221 97px,#eb7e22 140px,#e76522 168px,#e65b22 196px,#e34f23 216px)"></div><div style="top:23px;background:linear-gradient(90deg,#eedc28 0px,#f1d41c 24px,#f6c110 42px,#f3ae19 61px,#ee9321 114px,#eb8022 146px,#e86c22 169px,#e76022 197px,#e45323 216px)"></div><div style="top:24px;background:linear-gradient(90deg,#eedd2e 0px,#f1d51d 30px,#f5c311 48px,#f4af18 71px,#ef9821 118px,#eb8322 150px,#e97322 171px,#e76622 198px,#e55722 216px)"></div><div style="top:25px;background:linear-gradient(90deg,#eede33 0px,#efda24 24px,#f2d119 41px,#f6bd11 63px,#f0a21f 111px,#ec8b22 149px,#ea7a22 171px,#e86c22 198px,#e65b22 216px)"></div><div style="top:26px;background:linear-gradient(90deg,#eedf39 0px,#efda24 30px,#f2d119 49px,#f6bd11 73px,#ee9221 148px,#eb8022 173px,#e96f22 200px,#e76022 216px)"></div><div style="top:27px;background:linear-gradient(90deg,#efdf3f 0px,#efda24 35px,#f2d21a 55px,#f6c110 80px,#f2a71c 127px,#eb8522 176px,#e97122 204px,#e76522 216px)"></div><div style="top:28px;background:linear-gradient(90deg,#efe044 0px,#efda25 38px,#f1d41c 60px,#f4c712 80px,#f5b913 103px,#ee9721 156px,#ea7a22 201px,#e86b22 216px)"></div><div style="top:29px;background:linear-gradient(90deg,#f0e049 0px,#efdb26 40px,#f1d31b 67px,#f6bf10 108px,#ee9521 167px,#eb8122 199px,#e97022 216px)"></div><div style="top:30px;background:linear-gradient(90deg,#f1e151 0px,#eedb27 42px,#f2d119 85px,#f6bc12 121px,#ee9721 173px,#eb8222 203px,#e97522 216px)"></div><div style="top:31px;background:linear-gradient(90deg,#f1e158 0px,#eedc28 44px,#f2d119 96px,#f6bc12 130px,#ef9a21 178px,#ea7e22 212px,#ea7922 216px)"></div><div style="top:32px;background:linear-gradient(90deg,#f2e25d 0px,#efe041 26px,#eedd2d 41px,#f1d31b 103px,#f6bf11 135px,#ef9a21 186px,#eb7e22 216px)"></div><div style="top:33px;background:linear-gradient(90deg,#f2e262 0px,#f1e155 18px,#eede32 38px,#efda24 70px,#f1d41c 110px,#f6c010 141px,#f0a020 184px,#eb8322 216px)"></div><div style="top:34px;background:linear-gradient(90deg,#f2e265 0px,#f2e25e 17px,#eedf37 36px,#efdb25 71px,#f1d41c 116px,#f6c010 149px,#f1a61d 181px,#ec8722 216px)"></div><div style="top:35px;background:linear-gradient(90deg,#f3e367 0px,#f2e265 16px,#f1e152 26px,#efe044 30px,#eede34 44px,#efdb26 78px,#f1d41c 124px,#f6bf11 158px,#f3ad19 175px,#ec8c22 216px)"></div><div style="top:36px;background:linear-gradient(90deg,#f3e369 0px,#f3e36c 15px,#f2e25b 25px,#f0e046 30px,#eedf36 45px,#eedb26 81px,#f1d41c 131px,#f6bf10 162px,#f3ae19 180px,#ed8f22 216px)"></div><div style="top:37px;background:linear-gradient(90deg,#f3e36b 0px,#f3e371 14px,#f2e262 24px,#f0e046 31px,#eedf36 49px,#eedb27 88px,#f1d41c 140px,#f5c411 163px,#f3ae19 186px,#ee9321 216px)"></div><div style="top:38px;background:linear-gradient(90deg,#f3e36d 0px,#f4e475 14px,#f3e366 24px,#f0e047 32px,#eede34 59px,#eedb26 100px,#f1d41c 148px,#f6bf11 172px,#ee9721 216px)"></div><div style="top:39px;background:linear-gradient(90deg,#f3e36e 0px,#f4e479 13px,#f3e36c 23px,#f0e047 33px,#eedd2c 81px,#f1d41c 155px,#f6c010 176px,#ef9a21 216px)"></div><div style="top:40px;background:linear-gradient(90deg,#f3e371 0px,#f4e57d 13px,#f4e472 22px,#f0e048 34px,#eedd2c 88px,#f1d51d 159px,#f5c211 178px,#f09e20 216px)"></div><div style="top:41px;background:linear-gradient(90deg,#f4e473 0px,#f5e580 13px,#f4e475 22px,#f0e04a 35px,#eedd2e 87px,#f1d61e 162px,#f5c411 181px,#f3ad19 203px,#f0a11f 216px)"></div><div style="top:42px;background:linear-gradient(90deg,#f4e476 0px,#f5e683 14px,#f4e476 23px,#f1e14f 35px,#efdf3e 57px,#eedc28 114px,#f1d51d 166px,#f5c411 186px,#f2a91b 211px,#f1a41e 216px)"></div><div style="top:43px;background:linear-gradient(90deg,#f4e479 0px,#f5e686 14px,#f4e478 23px,#f1e154 35px,#f0e044 50px,#eedd2d 102px,#f1d61e 169px,#f6c010 192px,#f2a71c 216px)"></div><div style="top:44px;background:linear-gradient(90deg,#f4e57d 0px,#f5e788 14px,#f4e57b 23px,#f1e15a 35px,#f0e046 52px,#eedd2e 102px,#f1d51d 173px,#f6bf10 196px,#f2aa1b 216px)"></div><div style="top:45px;background:linear-gradient(90deg,#f5e580 0px,#f6e78b 14px,#f5e57e 23px,#f2e25f 35px,#f0e046 56px,#eedd2f 104px,#f1d61e 176px,#f6bf10 199px,#f3ad19 216px)"></div><div style="top:46px;background:linear-gradient(90deg,#f5e683 0px,#f6e78d 15px,#f4e57c 25px,#f2e263 36px,#efe044 62px,#eedd2e 113px,#f0d61e 179px,#f6c010 201px,#f4b018 216px)"></div><div style="top:47px;background:linear-gradient(90deg,#f5e686 0px,#f6e88f 15px,#f5e57f 25px,#f3e368 36px,#f0e04a 58px,#eede32 102px,#f0d61e 182px,#f5c211 202px,#f4b216 216px)"></div><div style="top:48px;background:linear-gradient(90deg,#f5e78a 0px,#f6e892 15px,#f5e580 26px,#f3e36c 37px,#f2e25b 50px,#f0e045 66px,#eede30 114px,#efd922 176px,#f2d018 191px,#f6bd11 210px,#f5b515 216px)"></div><div style="top:49px;background:linear-gradient(90deg,#f6e88d 0px,#f6e995 15px,#f5e57e 28px,#f3e36f 39px,#f0e045 68px,#eede31 114px,#eedc28 159px,#f1d41c 190px,#f6c110 209px,#f5b913 216px)"></div><div style="top:50px;background:linear-gradient(90deg,#f6e890 0px,#f7e998 15px,#f4e475 37px,#f3e368 48px,#f0e046 70px,#eede32 113px,#eedd2b 158px,#f1d41c 192px,#f5c211 211px,#f6bd12 216px)"></div><div style="top:51px;background:linear-gradient(90deg,#f6e994 0px,#f7ea9b 15px,#f4e478 38px,#f3e368 50px,#f0e046 72px,#eede33 112px,#eedd2d 158px,#f1d51d 194px,#f5c211 214px,#f6c010 216px)"></div><div style="top:52px;background:linear-gradient(90deg,#f7e999 0px,#f7ea9e 15px,#f4e57c 38px,#f2e265 55px,#f0e046 75px,#eede34 112px,#eedd2f 157px,#f1d51d 196px,#f5c311 216px)"></div><div style="top:53px;background:linear-gradient(90deg,#f7ea9d 0px,#f7eba0 16px,#f5e580 38px,#f2e265 57px,#f0e046 78px,#eede35 112px,#eede30 157px,#f1d41c 199px,#f5c512 216px)"></div><div style="top:54px;background:linear-gradient(90deg,#f7eba1 0px,#f8eba3 16px,#f5e683 38px,#f3e369 57px,#f0e046 80px,#eedf36 112px,#eede32 156px,#f1d41c 201px,#f4c813 216px)"></div><div style="top:55px;background:linear-gradient(90deg,#f8eba5 0px,#f8eca6 16px,#f5e686 39px,#f2e25d 66px,#f0e046 83px,#eedf37 112px,#eede34 156px,#f0d821 197px,#f3ca13 216px)"></div><div style="top:56px;background:linear-gradient(90deg,#f8eca9 0px,#f8eca8 17px,#f5e789 39px,#f2e264 64px,#f0e045 86px,#eedf37 112px,#eede35 155px,#f0d921 197px,#f3cc14 216px)"></div><div style="top:57px;background:linear-gradient(90deg,#f8edad 0px,#f8edab 17px,#f6e78b 40px,#f0e045 88px,#eedf38 112px,#eedf37 154px,#f0d922 198px,#f3ce16 216px)"></div><div style="top:58px;background:linear-gradient(90deg,#f9edb0 0px,#f8edae 18px,#f6e78c 42px,#f0e046 90px,#eedf39 112px,#eedf38 154px,#efd922 198px,#f2cf17 216px)"></div><div style="top:59px;background:linear-gradient(90deg,#f9eeb4 0px,#f9edb1 18px,#f1e15a 78px,#f0e044 94px,#eedf3a 113px,#eedf39 154px,#efd923 198px,#f2d119 216px)"></div><div style="top:60px;background:linear-gradient(90deg,#f9efb8 0px,#f9eeb4 18px,#f1e154 84px,#efe040 100px,#efdf3c 120px,#eedf39 156px,#efda23 198px,#f1d21a 216px)"></div><div style="top:61px;background:linear-gradient(90deg,#faefbc 0px,#f9eeb6 19px,#f0e04b 92px,#efdf3d 110px,#eedf3b 155px,#efda23 199px,#f1d31b 216px)"></div><div style="top:62px;background:linear-gradient(90deg,#faf0bf 0px,#f9efb9 19px,#f1e14e 93px,#efdf3f 108px,#eedf3c 156px,#efda24 199px,#f1d41c 216px)"></div><div style="top:63px;background:linear-gradient(90deg,#faf1c3 0px,#faefbb 20px,#f1e150 95px,#efe041 106px,#eedf3c 158px,#efda24 199px,#f1d51d 216px)"></div><div style="top:64px;background:linear-gradient(90deg,#fbf1c6 0px,#faf0be 20px,#f1e153 96px,#efe044 105px,#eedf3b 160px,#efda24 200px,#f0d61e 216px)"></div><div style="top:65px;background:linear-gradient(90deg,#fbf2c9 0px,#faf0c0 21px,#f5e789 60px,#f1e155 98px,#f0e045 106px,#eedf3c 161px,#efda24 201px,#f0d71f 216px)"></div><div style="top:66px;background:linear-gradient(90deg,#fcf3cd 0px,#faf1c3 21px,#f6e892 56px,#f1e158 100px,#f0e046 108px,#eedf3c 162px,#efda24 202px,#f0d820 216px)"></div><div style="top:67px;background:linear-gradient(90deg,#fcf4d0 0px,#fbf1c6 21px,#f7e998 55px,#f4e474 83px,#f2e25c 102px,#f0e047 110px,#efdf3c 163px,#efda25 202px,#f0d820 216px)"></div><div style="top:68px;background:linear-gradient(90deg,#fcf5d3 0px,#fbf2c8 22px,#f7ea99 56px,#f4e57b 80px,#f2e262 103px,#f0e04a 111px,#eedf3b 165px,#efda25 203px,#f0d821 216px)"></div><div style="top:69px;background:linear-gradient(90deg,#fdf6d6 0px,#fbf3ca 22px,#f7ea9f 55px,#f5e685 74px,#f3e36a 103px,#f1e14f 111px,#f0e046 122px,#efdf3d 163px,#efda25 203px,#f0d821 216px)"></div><div style="top:70px;background:linear-gradient(90deg,#fdf7db 0px,#fbf2ca 25px,#f7eba0 56px,#f5e788 74px,#f3e370 103px,#f1e152 112px,#f0e047 124px,#efdf3d 165px,#efda25 204px,#f0d821 216px)"></div><div style="top:71px;background:linear-gradient(90deg,#fef8e1 0px,#faf1c2 34px,#f6e78b 74px,#f4e475 103px,#f1e155 113px,#f0e048 126px,#efdf3c 166px,#efda25 205px,#f0d921 216px)"></div><div style="top:72px;background:linear-gradient(90deg,#fef9e7 0px,#faf0bd 41px,#f6e88f 74px,#f4e57c 102px,#f1e155 115px,#f0e048 130px,#eedf3c 168px,#efda25 205px,#f0d921 216px)"></div><div style="top:73px;background:linear-gradient(90deg,#fefbed 0px,#f9eeb5 49px,#f6e892 74px,#f5e57f 102px,#f1e159 115px,#f0e049 130px,#eedf3b 170px,#efda25 206px,#f0d921 216px)"></div><div style="top:74px;background:linear-gradient(90deg,#fffcf3 0px,#fdf6da 20px,#f9edb0 54px,#f6e995 75px,#f5e682 102px,#f2e25a 116px,#f0e04b 131px,#eedf3a 172px,#efda25 207px,#f0d922 216px)"></div><div style="top:75px;background:linear-gradient(90deg,#fffdf7 0px,#fef9e6 15px,#fcf3cd 33px,#f9edb0 56px,#f7e998 76px,#f5e685 102px,#f2e25b 117px,#f0e04b 133px,#eedf38 175px,#efda24 208px,#f0d922 216px)"></div><div style="top:76px;background:linear-gradient(90deg,#fffdf8 0px,#fffcf0 11px,#fcf4d2 31px,#f9eeb4 55px,#f7ea9c 75px,#f5e787 102px,#f2e25c 118px,#f0e04b 135px,#eedf36 178px,#efda24 209px,#f0d922 216px)"></div><div style="top:77px;background:linear-gradient(90deg,#fffefa 0px,#fffcf3 12px,#fcf5d4 31px,#f9efb7 55px,#f7ea9f 75px,#f6e78b 101px,#f2e25d 119px,#f0e04b 137px,#eede34 181px,#efda24 211px,#f0d922 216px)"></div><div style="top:78px;background:linear-gradient(90deg,#fffefb 0px,#fffcf3 14px,#fdf5d5 32px,#f9efba 55px,#f8eba2 74px,#f6e78d 101px,#f2e25e 120px,#f0e04b 140px,#eede31 186px,#f0d922 216px)"></div><div style="top:79px;background:linear-gradient(90deg,#fffefc 0px,#fffcf2 16px,#fdf5d5 34px,#faefbb 56px,#f8eba4 75px,#f6e890 100px,#f2e25e 121px,#f0e04a 142px,#eedd2d 191px,#efd922 216px)"></div><div style="top:80px;background:linear-gradient(90deg,#fffffe 0px,#fffcf3 17px,#fdf5d6 35px,#faefbb 57px,#f8eca5 77px,#f6e891 100px,#f2e260 121px,#f0e04b 142px,#efda24 210px,#efd922 216px)"></div><div style="top:81px;background:linear-gradient(90deg,#ffffff 0px,#fffcf2 19px,#fdf6d6 37px,#faefba 59px,#f8eba5 81px,#f6e892 100px,#f2e260 122px,#f0e04a 144px,#efda24 210px,#efd922 216px)"></div><div style="top:82px;background:linear-gradient(90deg,#ffffff 0px,#fffcf2 20px,#fdf6d7 38px,#f9efb9 61px,#f6e995 99px,#f2e260 123px,#f0e048 148px,#efda24 210px,#efd922 216px)"></div><div style="top:83px;background:linear-gradient(90deg,#ffffff 0px,#fffdf4 20px,#fdf6d9 38px,#f8edac 76px,#f6e996 99px,#f2e262 123px,#f0e048 149px,#efda24 210px,#efd922 216px)"></div><div style="top:84px;background:linear-gradient(90deg,#ffffff 0px,#fffdf6 20px,#fdf7dd 36px,#f8edac 77px,#f6e996 99px,#f2e262 124px,#f0e048 150px,#efda25 209px,#efd923 216px)"></div><div style="top:85px;background:linear-gradient(90deg,#ffffff 0px,#fffdf7 19px,#fdf7dd 39px,#f8edae 77px,#f7e996 99px,#f2e261 125px,#f0e047 152px,#efda25 209px,#efd923 216px)"></div><div style="top:86px;background:linear-gradient(90deg,#ffffff 0px,#fffef9 16px,#fefbee 25px,#f8edac 80px,#f6e994 100px,#f2e261 126px,#f0e047 153px,#efdb25 208px,#efd923 216px)"></div><div style="top:87px;background:linear-gradient(90deg,#ffffff 0px,#fffefa 16px,#fefbee 26px,#fbf3ca 56px,#f8eca8 85px,#f6e88e 103px,#f2e261 127px,#f0e046 155px,#efdb25 208px,#efd923 216px)"></div><div style="top:88px;background:linear-gradient(90deg,#ffffff 0px,#fffefa 16px,#fffbef 26px,#fcf4d0 53px,#f8ecaa 84px,#f6e78c 104px,#f2e261 128px,#f0e045 157px,#efdb26 207px,#efd923 216px)"></div><div style="top:89px;background:linear-gradient(90deg,#ffffff 0px,#fffefa 16px,#fefbee 27px,#fcf5d4 51px,#f8eca7 87px,#f5e581 110px,#f2e25b 133px,#efe042 161px,#efdb26 207px,#efda23 216px)"></div><div style="top:90px;background:linear-gradient(90deg,#ffffff 0px,#fffefa 16px,#fefbee 27px,#fdf6d6 50px,#f6e891 101px,#f2e25e 131px,#efe043 160px,#efdb26 207px,#efda23 216px)"></div><div style="top:91px;background:linear-gradient(90deg,#ffffff 0px,#fffefa 16px,#fffbef 27px,#fdf6d7 50px,#f6e88e 103px,#f2e25e 132px,#efe043 160px,#efdb26 206px,#efda23 216px)"></div><div style="top:92px;background:linear-gradient(90deg,#ffffff 0px,#fffefb 16px,#fffbef 27px,#fdf6d8 50px,#f5e788 106px,#f2e25c 134px,#efe042 161px,#efdb26 206px,#efda23 216px)"></div><div style="top:93px;background:linear-gradient(90deg,#ffffff 0px,#fffefb 16px,#fffbef 27px,#fdf6d9 50px,#f5e682 110px,#f1e158 138px,#efdf40 164px,#efdb26 206px,#efda23 216px)"></div><div style="top:94px;background:linear-gradient(90deg,#ffffff 0px,#fffefb 16px,#fffbef 27px,#fdf7db 50px,#f4e476 117px,#f0e046 155px,#eedb27 204px,#efda23 216px)"></div><div style="top:95px;background:linear-gradient(90deg,#ffffff 0px,#fffefb 16px,#fffbef 27px,#fef9e3 43px,#f4e473 119px,#f0e044 158px,#eedb27 203px,#efda24 216px)"></div><div style="top:96px;background:linear-gradient(90deg,#ffffff 0px,#fffefa 16px,#fefbee 27px,#fef9e4 40px,#fdf6d9 52px,#f2e25b 137px,#efe040 163px,#eedb27 203px,#efda24 216px)"></div><div style="top:97px;background:linear-gradient(90deg,#ffffff 0px,#fffefa 16px,#fefbee 27px,#fef9e4 39px,#fdf7db 51px,#f2e262 132px,#efe042 161px,#eedb27 202px,#efda24 216px)"></div><div style="top:98px;background:linear-gradient(90deg,#ffffff 0px,#fffefa 16px,#fefbee 27px,#fef9e4 39px,#fdf7dc 51px,#f5e685 108px,#f0e047 154px,#eedc28 199px,#efda24 216px)"></div><div style="top:99px;background:linear-gradient(90deg,#ffffff 0px,#fffefa 16px,#fefbee 27px,#fef9e4 38px,#fdf7de 50px,#f5e788 105px,#f0e045 157px,#eedc28 198px,#efda24 216px)"></div><div style="top:100px;background:linear-gradient(90deg,#ffffff 0px,#fffefb 15px,#fffbef 26px,#fef9e4 37px,#fdf8de 50px,#f6e78a 103px,#efe043 159px,#eedc28 198px,#efda24 216px)"></div><div style="top:101px;background:linear-gradient(90deg,#ffffff 0px,#fffefb 15px,#fffbef 26px,#fef9e4 37px,#fdf8df 50px,#f6e78b 102px,#efe042 160px,#eedc28 197px,#efda24 216px)"></div><div style="top:102px;background:linear-gradient(90deg,#ffffff 0px,#fffefb 15px,#fffbef 26px,#fef9e4 37px,#fdf8df 50px,#f6e78b 102px,#efe041 160px,#eedc28 196px,#efda24 216px)"></div><div style="top:103px;background:linear-gradient(90deg,#ffffff 0px,#fffefb 15px,#fffbef 26px,#fef9e4 37px,#fdf8df 50px,#f6e78c 101px,#f0e04c 150px,#eedd2c 187px,#efda24 216px)"></div><div style="top:104px;background:linear-gradient(90deg,#ffffff 0px,#fffefa 16px,#fefbee 27px,#fef9e4 38px,#fdf7de 50px,#f6e88d 100px,#f3e370 123px,#efe042 159px,#eedc28 194px,#efda24 216px)"></div><div style="top:105px;background:linear-gradient(90deg,#ffffff 0px,#fffef9 17px,#fefbed 28px,#fef9e4 40px,#fdf7dc 51px,#f6e88e 99px,#f4e474 121px,#efe041 159px,#eedc28 194px,#efda24 216px)"></div><div style="top:106px;background:linear-gradient(90deg,#ffffff 0px,#fffef9 17px,#fefbed 28px,#fef9e4 42px,#fdf6d6 54px,#f6e88f 98px,#f4e476 120px,#efe042 158px,#eedc28 193px,#efda24 216px)"></div><div style="top:107px;background:linear-gradient(90deg,#ffffff 0px,#fffef9 17px,#fefbed 28px,#fdf7dc 50px,#f6e994 95px,#f4e477 120px,#efe042 157px,#eedc28 192px,#efda24 216px)"></div><div style="top:108px;background:linear-gradient(90deg,#ffffff 0px,#fffef9 18px,#fef9e5 39px,#fdf6da 51px,#f6e995 94px,#f4e479 119px,#efe043 156px,#eedc28 191px,#efda24 216px)"></div><div style="top:109px;background:linear-gradient(90deg,#ffffff 0px,#fffdf8 19px,#fef9e5 39px,#fdf6d8 51px,#f7e998 92px,#f4e479 119px,#efe043 155px,#eedc28 190px,#efda24 216px)"></div><div style="top:110px;background:linear-gradient(90deg,#ffffff 0px,#fffdf6 22px,#fef9e6 38px,#fdf6d9 50px,#f7ea9b 89px,#f4e57b 118px,#efe044 154px,#eedc28 189px,#efda24 216px)"></div><div style="top:111px;background:linear-gradient(90deg,#ffffff 0px,#fffdf5 23px,#fef9e6 38px,#fdf5d5 52px,#f7ea9c 88px,#f4e57d 117px,#f0e044 153px,#eedc28 189px,#efda24 216px)"></div><div style="top:112px;background:linear-gradient(90deg,#ffffff 0px,#fffcf3 24px,#fdf6d9 49px,#f7ea9d 87px,#f5e580 116px,#f0e045 152px,#eedc28 188px,#efda24 216px)"></div><div style="top:113px;background:linear-gradient(90deg,#ffffff 0px,#fffcf3 24px,#fdf6da 48px,#f7ea9e 86px,#f5e682 115px,#f0e045 151px,#eedc28 188px,#efda24 216px)"></div><div style="top:114px;background:linear-gradient(90deg,#ffffff 0px,#fffcf2 24px,#fdf6d8 48px,#f7ea9e 85px,#f5e682 115px,#f0e045 150px,#eedc28 188px,#efda24 216px)"></div><div style="top:115px;background:linear-gradient(90deg,#ffffff 0px,#fffcf3 23px,#fdf5d6 49px,#f7ea9f 84px,#f5e684 114px,#f0e046 149px,#eedc28 187px,#efda24 216px)"></div><div style="top:116px;background:linear-gradient(90deg,#ffffff 0px,#fffcf2 23px,#fcf5d3 50px,#f7eb9f 83px,#f5e686 113px,#f0e046 148px,#eedc28 187px,#efda24 216px)"></div><div style="top:117px;background:linear-gradient(90deg,#fffffe 0px,#fffcf2 22px,#fcf4cf 52px,#f7ea9e 83px,#f5e788 112px,#f0e046 147px,#eedc28 186px,#efda24 216px)"></div><div style="top:118px;background:linear-gradient(90deg,#fffffe 0px,#fffcf2 21px,#fbf3ca 54px,#f7ea9e 83px,#f6e78a 111px,#f0e046 146px,#eedc27 186px,#efda23 216px)"></div><div style="top:119px;background:linear-gradient(90deg,#fffffd 0px,#fffcf2 20px,#fbf2c7 55px,#f7ea9d 83px,#f6e78b 111px,#f0e046 145px,#eedc27 186px,#efda23 216px)"></div><div style="top:120px;background:linear-gradient(90deg,#fffefc 0px,#fffcf1 19px,#fbf1c6 55px,#f7ea9d 82px,#f6e78c 110px,#f0e046 144px,#eedc27 185px,#efda23 216px)"></div><div style="top:121px;background:linear-gradient(90deg,#fffefb 0px,#fffcf2 17px,#faf1c3 56px,#f7ea9b 83px,#f6e88e 109px,#f0e047 143px,#eedc27 184px,#efda23 216px)"></div><div style="top:122px;background:linear-gradient(90deg,#fffefa 0px,#fffcf2 15px,#fdf5d5 41px,#f9efb8 61px,#f7e997 86px,#f6e88e 109px,#f0e047 142px,#eedc27 184px,#efda23 216px)"></div><div style="top:123px;background:linear-gradient(90deg,#fffef9 0px,#fffcf0 14px,#fdf5d5 39px,#faefbc 58px,#f7e997 85px,#f6e88f 108px,#f4e473 121px,#f0e046 142px,#eedc27 184px,#efd923 216px)"></div><div style="top:124px;background:linear-gradient(90deg,#fffdf8 0px,#fffbef 12px,#fcf5d4 37px,#faf0be 56px,#f7e996 84px,#f6e88f 108px,#f4e475 120px,#f0e046 141px,#eedc27 183px,#efd923 216px)"></div><div style="top:125px;background:linear-gradient(90deg,#fffdf7 0px,#fcf4d1 38px,#faefbb 57px,#f6e994 85px,#f6e88f 108px,#f4e476 119px,#f0e047 139px,#eedc27 182px,#efd923 216px)"></div><div style="top:126px;background:linear-gradient(90deg,#fffdf4 0px,#fcf4d0 37px,#f9efb9 57px,#f6e892 86px,#f6e88f 108px,#f4e478 118px,#f0e048 137px,#eedc28 180px,#efd923 216px)"></div><div style="top:127px;background:linear-gradient(90deg,#fffbef 0px,#fbf3cc 40px,#f9eeb1 61px,#f6e890 87px,#f6e88e 108px,#f4e479 117px,#f0e04a 135px,#eedc2a 174px,#efd923 216px)"></div><div style="top:128px;background:linear-gradient(90deg,#fefaeb 0px,#faefbb 54px,#f6e890 86px,#f6e88e 108px,#f4e478 117px,#f0e04b 133px,#eedd2c 170px,#efd922 216px)"></div><div style="top:129px;background:linear-gradient(90deg,#fef9e6 0px,#f9efb9 54px,#f6e88f 86px,#f6e78b 109px,#f3e36f 119px,#f0e048 133px,#eedc28 177px,#efd922 216px)"></div><div style="top:130px;background:linear-gradient(90deg,#fef8e0 0px,#f9efb8 53px,#f6e88d 86px,#f6e78a 109px,#f4e473 117px,#f0e049 131px,#eedc28 174px,#efd922 216px)"></div><div style="top:131px;background:linear-gradient(90deg,#fdf7db 0px,#f9efb7 52px,#f6e78c 86px,#f5e789 109px,#f3e370 117px,#f0e048 130px,#eedc28 174px,#f0d922 216px)"></div><div style="top:132px;background:linear-gradient(90deg,#fdf6d6 0px,#f9eeb5 52px,#f6e78b 86px,#f5e687 109px,#f3e371 116px,#f0e048 128px,#eedc28 172px,#f0d922 216px)"></div><div style="top:133px;background:linear-gradient(90deg,#fcf5d3 0px,#f9eeb2 53px,#f5e78a 86px,#f5e683 110px,#f2e261 119px,#f0e046 128px,#eedc27 173px,#f0d922 216px)"></div><div style="top:134px;background:linear-gradient(90deg,#fcf4cf 0px,#f9edb0 53px,#f5e789 86px,#f5e580 110px,#f3e36a 116px,#f0e048 125px,#eedc29 167px,#f0d922 216px)"></div><div style="top:135px;background:linear-gradient(90deg,#fbf3cc 0px,#f8edad 54px,#f5e686 87px,#f4e57c 110px,#f3e36a 115px,#f0e049 123px,#eedd2f 156px,#efda24 189px,#f0d921 216px)"></div><div style="top:136px;background:linear-gradient(90deg,#fbf2c8 0px,#f8ecaa 55px,#f5e684 88px,#f4e477 110px,#f3e36a 114px,#f0e04a 121px,#eede34 145px,#efdb26 179px,#f0d921 216px)"></div><div style="top:137px;background:linear-gradient(90deg,#fbf1c4 0px,#f8eca6 57px,#f5e682 89px,#f4e472 110px,#f2e264 114px,#f0e048 120px,#eede30 150px,#efda25 183px,#f0d921 216px)"></div><div style="top:138px;background:linear-gradient(90deg,#faf0c0 0px,#f7eba1 59px,#f5e57f 91px,#f3e36e 109px,#f2e25d 114px,#f0e047 119px,#eede30 148px,#efda24 183px,#f0d821 216px)"></div><div style="top:139px;background:linear-gradient(90deg,#faefbc 0px,#f7ea9e 60px,#f4e47a 94px,#f3e368 109px,#f1e14f 115px,#efe043 120px,#eedc2a 157px,#f0d821 216px)"></div><div style="top:140px;background:linear-gradient(90deg,#f9efb8 0px,#f7ea9c 60px,#f3e369 106px,#f1e156 112px,#f0e046 116px,#eede33 138px,#efdb25 176px,#f0d820 216px)"></div><div style="top:141px;background:linear-gradient(90deg,#f9eeb4 0px,#f7ea99 61px,#f2e266 105px,#f1e14f 112px,#efe040 118px,#eedc2a 153px,#f0d820 216px)"></div><div style="top:142px;background:linear-gradient(90deg,#f9edaf 0px,#f7e997 61px,#f2e263 104px,#f0e044 114px,#eede33 132px,#efda25 173px,#f0d820 216px)"></div><div style="top:143px;background:linear-gradient(90deg,#f8ecab 0px,#f6e994 62px,#f2e261 103px,#efe044 113px,#eede33 130px,#efda25 172px,#f0d820 216px)"></div><div style="top:144px;background:linear-gradient(90deg,#f8eca6 0px,#f6e892 62px,#f2e261 101px,#efe043 112px,#eede33 128px,#efda25 171px,#f0d71f 216px)"></div><div style="top:145px;background:linear-gradient(90deg,#f7eba2 0px,#f6e88f 63px,#f2e25f 100px,#efe042 111px,#eede32 126px,#efda25 169px,#f0d61e 216px)"></div><div style="top:146px;background:linear-gradient(90deg,#f7ea9d 0px,#f6e78c 64px,#f2e25d 99px,#efe042 110px,#eede31 126px,#efda24 170px,#f1d61e 216px)"></div><div style="top:147px;background:linear-gradient(90deg,#f7e999 0px,#f5e78a 64px,#f2e25b 98px,#efe043 108px,#eede30 124px,#efda24 166px,#f1d51d 216px)"></div><div style="top:148px;background:linear-gradient(90deg,#f6e994 0px,#f5e788 64px,#f1e159 97px,#efe041 108px,#eedd2e 125px,#efd923 175px,#f1d41c 216px)"></div><div style="top:149px;background:linear-gradient(90deg,#f6e890 0px,#f5e686 64px,#f1e158 96px,#efe042 106px,#eedd2e 124px,#efd922 177px,#f1d31b 216px)"></div><div style="top:150px;background:linear-gradient(90deg,#f6e78d 0px,#f5e682 65px,#f1e154 96px,#efdf3f 107px,#eedd2b 126px,#f1d31b 216px)"></div><div style="top:151px;background:linear-gradient(90deg,#f5e789 0px,#f5e580 65px,#f1e153 95px,#efdf40 105px,#eedc2a 126px,#f1d31b 214px,#f2d21a 216px)"></div><div style="top:152px;background:linear-gradient(90deg,#f5e686 0px,#f4e57d 65px,#f1e14f 95px,#eedd2f 117px,#efdb26 140px,#f2d21a 214px,#f2d119 216px)"></div><div style="top:153px;background:linear-gradient(90deg,#f5e683 0px,#f4e47b 65px,#f0e04d 94px,#eedd2b 120px,#f2d21a 210px,#f2d018 216px)"></div><div style="top:154px;background:linear-gradient(90deg,#f5e580 0px,#f4e478 65px,#f0e04b 93px,#eedc29 122px,#f1d21a 205px,#f2cf17 216px)"></div><div style="top:155px;background:linear-gradient(90deg,#f4e57c 0px,#f4e474 66px,#efdf40 100px,#eedc27 124px,#f1d21a 200px,#f2cf17 216px)"></div><div style="top:156px;background:linear-gradient(90deg,#f4e479 0px,#f3e371 66px,#efe043 96px,#eedc27 122px,#f1d21a 196px,#f3ce16 216px)"></div><div style="top:157px;background:linear-gradient(90deg,#f4e476 0px,#f3e36e 66px,#efe043 94px,#eedb27 122px,#f1d21a 192px,#f3cd15 216px)"></div><div style="top:158px;background:linear-gradient(90deg,#f4e473 0px,#f3e36b 66px,#f0e04b 85px,#eedb27 121px,#f1d21a 189px,#f3cc14 216px)"></div><div style="top:159px;background:linear-gradient(90deg,#f3e370 0px,#f2e266 67px,#f0e044 89px,#eedb27 120px,#f2d21a 186px,#f3cb14 216px)"></div><div style="top:160px;background:linear-gradient(90deg,#f3e36d 0px,#f2e261 68px,#f0e044 87px,#eedb26 119px,#f2d119 184px,#f4c913 216px)"></div><div style="top:161px;background:linear-gradient(90deg,#f3e36b 0px,#f2e25d 68px,#efe043 86px,#eedb26 118px,#f2d018 183px,#f4c813 216px)"></div><div style="top:162px;background:linear-gradient(90deg,#f3e368 0px,#f1e158 70px,#efe043 84px,#eedb26 117px,#f2cf17 183px,#f4c712 216px)"></div><div style="top:163px;background:linear-gradient(90deg,#f2e265 0px,#f1e153 71px,#efe042 83px,#eedb26 116px,#f3cd15 186px,#f5c512 216px)"></div><div style="top:164px;background:linear-gradient(90deg,#f2e262 0px,#f0e04d 72px,#eedb26 114px,#f3cb14 190px,#f5c411 216px)"></div><div style="top:165px;background:linear-gradient(90deg,#f2e25f 0px,#f0e048 73px,#efdb26 114px,#f4c913 193px,#f5c211 216px)"></div><div style="top:166px;background:linear-gradient(90deg,#f2e25c 0px,#efe042 77px,#efdb26 113px,#f4c712 196px,#f6c110 216px)"></div><div style="top:167px;background:linear-gradient(90deg,#f1e158 0px,#efdf3f 78px,#efdb25 112px,#f5c411 198px,#f6bf10 216px)"></div><div style="top:168px;background:linear-gradient(90deg,#f1e155 0px,#efdf3d 78px,#efda25 112px,#f5c512 192px,#f6bd11 216px)"></div><div style="top:169px;background:linear-gradient(90deg,#f1e151 0px,#eedf3b 78px,#efda25 111px,#f5c612 185px,#f6bb12 216px)"></div><div style="top:170px;background:linear-gradient(90deg,#f0e04e 0px,#eedf39 78px,#efda25 110px,#f4c712 178px,#f5b913 216px)"></div><div style="top:171px;background:linear-gradient(90deg,#f0e04a 0px,#eedf37 78px,#efda24 110px,#f4c813 171px,#f5b913 211px,#f5b714 216px)"></div><div style="top:172px;background:linear-gradient(90deg,#f0e047 0px,#eede35 79px,#efda24 109px,#f4c813 165px,#f5b913 205px,#f5b515 216px)"></div><div style="top:173px;background:linear-gradient(90deg,#f0e045 0px,#eede33 80px,#efda23 110px,#f4c813 160px,#f5b913 200px,#f5b316 216px)"></div><div style="top:174px;background:linear-gradient(90deg,#efe044 0px,#eede31 80px,#f0d922 112px,#f4c813 156px,#f5b913 196px,#f4b217 216px)"></div><div style="top:175px;background:linear-gradient(90deg,#efe042 0px,#eedd2f 80px,#f1d41c 125px,#f4c612 158px,#f5b814 194px,#f4b017 216px)"></div><div style="top:176px;background:linear-gradient(90deg,#efdf40 0px,#eedd2d 81px,#f1d31b 123px,#f5c612 156px,#f5b714 192px,#f4af18 216px)"></div><div style="top:177px;background:linear-gradient(90deg,#efdf3e 0px,#eedd2b 81px,#f1d31b 121px,#f5c512 153px,#f5b714 189px,#f3ae19 216px)"></div><div style="top:178px;background:linear-gradient(90deg,#efdf3c 0px,#eedc29 81px,#f1d31b 119px,#f5c411 152px,#f5b316 194px,#f3ac1a 216px)"></div><div style="top:179px;background:linear-gradient(90deg,#eedf3a 0px,#efdb25 90px,#f1d31b 118px,#f5c411 151px,#f3ab1a 216px)"></div><div style="top:180px;background:linear-gradient(90deg,#eedf38 0px,#f0d820 108px,#f4c712 139px,#f5b814 176px,#f2a91b 216px)"></div><div style="top:181px;background:linear-gradient(90deg,#eedf37 0px,#f0d71f 108px,#f4c612 138px,#f5b714 175px,#f2a81c 216px)"></div><div style="top:182px;background:linear-gradient(90deg,#eede35 0px,#f0d61e 106px,#f4c612 135px,#f5b614 172px,#f2a61d 216px)"></div><div style="top:183px;background:linear-gradient(90deg,#eede33 0px,#f0d61e 104px,#f4c612 133px,#f5b614 169px,#f1a51d 216px)"></div><div style="top:184px;background:linear-gradient(90deg,#eede32 0px,#f0d61e 102px,#f5c612 131px,#f5b515 169px,#f1a41e 216px)"></div><div style="top:185px;background:linear-gradient(90deg,#eedd30 0px,#f1d61e 100px,#f5c512 130px,#f4b018 180px,#f1a21f 216px)"></div><div style="top:186px;background:linear-gradient(90deg,#eedd2e 0px,#f1d51d 98px,#f5c512 128px,#f2a91b 193px,#f0a120 216px)"></div><div style="top:187px;background:linear-gradient(90deg,#eedd2d 0px,#f1d61e 95px,#f5c411 126px,#f09f20 216px)"></div><div style="top:188px;background:linear-gradient(90deg,#eedd2b 0px,#f1d61e 92px,#f5c411 124px,#f09e20 216px)"></div><div style="top:189px;background:linear-gradient(90deg,#eedc29 0px,#f1d61e 89px,#f5c311 122px,#ef9c20 216px)"></div><div style="top:190px;background:linear-gradient(90deg,#eedc28 0px,#f1d51d 87px,#f5c411 119px,#ef9b20 216px)"></div><div style="top:191px;background:linear-gradient(90deg,#eedc27 0px,#f1d51d 84px,#f5c311 117px,#ef9921 216px)"></div><div style="top:192px;background:linear-gradient(90deg,#eedb27 0px,#f1d51d 81px,#f5c311 114px,#ee9821 216px)"></div><div style="top:193px;background:linear-gradient(90deg,#efdb26 0px,#f1d51d 78px,#f5c311 111px,#ee9621 216px)"></div><div style="top:194px;background:linear-gradient(90deg,#efdb25 0px,#f1d51d 75px,#f5c311 109px,#ee9521 216px)"></div><div style="top:195px;background:linear-gradient(90deg,#efda25 0px,#f1d41c 73px,#f6c110 109px,#ee9421 215px,#ee9321 216px)"></div><div style="top:196px;background:linear-gradient(90deg,#efda24 0px,#f1d31b 70px,#f6c010 109px,#ee9421 211px,#ed9221 216px)"></div><div style="top:197px;background:linear-gradient(90deg,#efda23 0px,#f1d21a 68px,#f6bf11 108px,#ee9621 203px,#ed9121 216px)"></div><div style="top:198px;background:linear-gradient(90deg,#efd923 0px,#f2d018 69px,#f6bc12 109px,#ef9821 196px,#ed8f22 216px)"></div><div style="top:199px;background:linear-gradient(90deg,#f0d922 0px,#f3cc14 75px,#f6bb12 108px,#ef9a21 192px,#ed8e22 216px)"></div><div style="top:200px;background:linear-gradient(90deg,#f0d921 0px,#f4c813 79px,#f5b913 108px,#ef9b20 188px,#ec8d22 216px)"></div><div style="top:201px;background:linear-gradient(90deg,#f0d821 0px,#f4c712 79px,#f5b714 109px,#ef9b20 185px,#ec8b22 216px)"></div><div style="top:202px;background:linear-gradient(90deg,#f0d820 0px,#f5c411 80px,#f4af18 131px,#ef9921 187px,#ec8a22 216px)"></div><div style="top:203px;background:linear-gradient(90deg,#f0d71f 0px,#f5c211 81px,#f3ae18 129px,#ef9921 185px,#ec8922 216px)"></div><div style="top:204px;background:linear-gradient(90deg,#f1d51d 0px,#f6c010 82px,#f3ae19 126px,#ef9921 183px,#ec8722 216px)"></div><div style="top:205px;background:linear-gradient(90deg,#f1d41c 0px,#f6bf11 81px,#f3ae19 125px,#ef9921 182px,#ec8622 216px)"></div><div style="top:206px;background:linear-gradient(90deg,#f1d21a 0px,#f6bf11 78px,#f3ae19 120px,#ef9921 180px,#eb8522 216px)"></div><div style="top:207px;background:linear-gradient(90deg,#f2d119 0px,#f6be11 76px,#f3ad19 120px,#ef9921 179px,#eb8422 216px)"></div><div style="top:208px;background:linear-gradient(90deg,#f2cf17 0px,#f6bb12 77px,#f1a41e 150px,#eb8322 216px)"></div></div>
<svg class="ov" width="660" height="551" viewBox="0 0 660 551"><defs><linearGradient id="cbgb" gradientUnits="objectBoundingBox" x1="0" y1="0" x2="0" y2="1"><stop offset="0.0206" stop-color="#ffffff"/><stop offset="0.0366" stop-color="#fffdf8"/><stop offset="0.0526" stop-color="#fdf7de"/><stop offset="0.0686" stop-color="#fbf2c9"/><stop offset="0.0846" stop-color="#f9eeb6"/><stop offset="0.1006" stop-color="#f8eba2"/><stop offset="0.1165" stop-color="#f6e88e"/><stop offset="0.1325" stop-color="#f5e57e"/><stop offset="0.1485" stop-color="#f3e36f"/><stop offset="0.1645" stop-color="#f2e260"/><stop offset="0.1805" stop-color="#f1e14f"/><stop offset="0.1965" stop-color="#efe043"/><stop offset="0.2125" stop-color="#eedf3c"/><stop offset="0.2285" stop-color="#eede35"/><stop offset="0.2444" stop-color="#eedd2e"/><stop offset="0.2604" stop-color="#eedc28"/><stop offset="0.2764" stop-color="#efdb25"/><stop offset="0.2924" stop-color="#efd923"/><stop offset="0.3084" stop-color="#f0d820"/><stop offset="0.3244" stop-color="#f2d019"/><stop offset="0.3404" stop-color="#f4c913"/><stop offset="0.3564" stop-color="#f6c010"/><stop offset="0.3723" stop-color="#f5b515"/><stop offset="0.3883" stop-color="#f3ae19"/><stop offset="0.4043" stop-color="#f2a71c"/><stop offset="0.4203" stop-color="#f0a020"/><stop offset="0.4363" stop-color="#ef9921"/><stop offset="0.4523" stop-color="#ed9121"/><stop offset="0.4683" stop-color="#ec8a22"/><stop offset="0.4843" stop-color="#eb8222"/><stop offset="0.5002" stop-color="#ea7a22"/><stop offset="0.5162" stop-color="#e97222"/><stop offset="0.5322" stop-color="#e86a22"/><stop offset="0.5482" stop-color="#e76222"/><stop offset="0.5642" stop-color="#e65a22"/><stop offset="0.5802" stop-color="#e45422"/><stop offset="0.5962" stop-color="#e34f23"/><stop offset="0.6122" stop-color="#e24a24"/><stop offset="0.6281" stop-color="#e04424"/><stop offset="0.6441" stop-color="#de3f24"/><stop offset="0.6601" stop-color="#dd3a24"/><stop offset="0.6761" stop-color="#dc3524"/><stop offset="0.6921" stop-color="#da3024"/><stop offset="0.7081" stop-color="#d82d24"/><stop offset="0.7241" stop-color="#d72a24"/><stop offset="0.7400" stop-color="#d62724"/><stop offset="0.7560" stop-color="#d42424"/><stop offset="0.7720" stop-color="#cd2222"/><stop offset="0.7880" stop-color="#c62121"/><stop offset="0.8040" stop-color="#be2020"/><stop offset="0.8200" stop-color="#b21e1e"/><stop offset="0.8360" stop-color="#a51d1d"/><stop offset="0.8520" stop-color="#961b1b"/><stop offset="0.8679" stop-color="#881919"/><stop offset="0.8839" stop-color="#7b1717"/><stop offset="0.8999" stop-color="#6d1616"/><stop offset="0.9159" stop-color="#601414"/><stop offset="0.9319" stop-color="#531212"/><stop offset="0.9479" stop-color="#421010"/><stop offset="0.9639" stop-color="#310d0d"/><stop offset="0.9799" stop-color="#140606"/></linearGradient><linearGradient id="cbgc" gradientUnits="objectBoundingBox" x1="0" y1="0" x2="0" y2="1"><stop offset="0.0201" stop-color="#ffffff"/><stop offset="0.0361" stop-color="#fffdf8"/><stop offset="0.0521" stop-color="#fdf7de"/><stop offset="0.0680" stop-color="#fbf2c9"/><stop offset="0.0840" stop-color="#f9eeb6"/><stop offset="0.1000" stop-color="#f8eba2"/><stop offset="0.1160" stop-color="#f6e88e"/><stop offset="0.1319" stop-color="#f5e57e"/><stop offset="0.1479" stop-color="#f3e36f"/><stop offset="0.1639" stop-color="#f2e260"/><stop offset="0.1798" stop-color="#f1e14f"/><stop offset="0.1958" stop-color="#efe043"/><stop offset="0.2118" stop-color="#eedf3c"/><stop offset="0.2278" stop-color="#eede35"/><stop offset="0.2437" stop-color="#eedd2e"/><stop offset="0.2597" stop-color="#eedc28"/><stop offset="0.2757" stop-color="#efdb25"/><stop offset="0.2916" stop-color="#efd923"/><stop offset="0.3076" stop-color="#f0d820"/><stop offset="0.3236" stop-color="#f2d019"/><stop offset="0.3396" stop-color="#f4c913"/><stop offset="0.3555" stop-color="#f6c010"/><stop offset="0.3715" stop-color="#f5b515"/><stop offset="0.3875" stop-color="#f3ae19"/><stop offset="0.4034" stop-color="#f2a71c"/><stop offset="0.4194" stop-color="#f0a020"/><stop offset="0.4354" stop-color="#ef9921"/><stop offset="0.4514" stop-color="#ed9121"/><stop offset="0.4673" stop-color="#ec8a22"/><stop offset="0.4833" stop-color="#eb8222"/><stop offset="0.4993" stop-color="#ea7a22"/><stop offset="0.5153" stop-color="#e97222"/><stop offset="0.5312" stop-color="#e86a22"/><stop offset="0.5472" stop-color="#e76222"/><stop offset="0.5632" stop-color="#e65a22"/><stop offset="0.5791" stop-color="#e45422"/><stop offset="0.5951" stop-color="#e34f23"/><stop offset="0.6111" stop-color="#e24a24"/><stop offset="0.6271" stop-color="#e04424"/><stop offset="0.6430" stop-color="#de3f24"/><stop offset="0.6590" stop-color="#dd3a24"/><stop offset="0.6750" stop-color="#dc3524"/><stop offset="0.6909" stop-color="#da3024"/><stop offset="0.7069" stop-color="#d82d24"/><stop offset="0.7229" stop-color="#d72a24"/><stop offset="0.7389" stop-color="#d62724"/><stop offset="0.7548" stop-color="#d42424"/><stop offset="0.7708" stop-color="#cd2222"/><stop offset="0.7868" stop-color="#c62121"/><stop offset="0.8027" stop-color="#be2020"/><stop offset="0.8187" stop-color="#b21e1e"/><stop offset="0.8347" stop-color="#a51d1d"/><stop offset="0.8507" stop-color="#961b1b"/><stop offset="0.8666" stop-color="#881919"/><stop offset="0.8826" stop-color="#7b1717"/><stop offset="0.8986" stop-color="#6d1616"/><stop offset="0.9146" stop-color="#601414"/><stop offset="0.9305" stop-color="#531212"/><stop offset="0.9465" stop-color="#421010"/><stop offset="0.9625" stop-color="#310d0d"/><stop offset="0.9784" stop-color="#140606"/></linearGradient><clipPath id="clb"><rect x="377" y="16" width="217" height="208.5"/></clipPath><clipPath id="clc"><rect x="377" y="308.3" width="217" height="208.7"/></clipPath></defs><rect x="1" y="11" width="322" height="529" fill="#4ab5b4"/><path d="M87.2 86.4H238.6V238.1H87.2Z M93.1 92.6V231.9H232.8V92.6Z" fill="#909090" stroke="#2a2a2a" stroke-width="1" fill-rule="evenodd"/><g fill="none" stroke="#222" stroke-width="0.85"><circle cx="90.15" cy="89.5" r="1.55"/><circle cx="90.15" cy="96.78" r="1.55"/><circle cx="90.15" cy="104.05" r="1.55"/><circle cx="90.15" cy="111.33" r="1.55"/><circle cx="90.15" cy="118.6" r="1.55"/><circle cx="90.15" cy="125.88" r="1.55"/><circle cx="90.15" cy="133.15" r="1.55"/><circle cx="90.15" cy="140.43" r="1.55"/><circle cx="90.15" cy="147.7" r="1.55"/><circle cx="90.15" cy="154.98" r="1.55"/><circle cx="90.15" cy="162.25" r="1.55"/><circle cx="90.15" cy="169.53" r="1.55"/><circle cx="90.15" cy="176.8" r="1.55"/><circle cx="90.15" cy="184.07" r="1.55"/><circle cx="90.15" cy="191.35" r="1.55"/><circle cx="90.15" cy="198.62" r="1.55"/><circle cx="90.15" cy="205.9" r="1.55"/><circle cx="90.15" cy="213.18" r="1.55"/><circle cx="90.15" cy="220.45" r="1.55"/><circle cx="90.15" cy="227.72" r="1.55"/><circle cx="90.15" cy="235.0" r="1.55"/><circle cx="97.43" cy="89.5" r="1.55"/><circle cx="97.43" cy="235.0" r="1.55"/><circle cx="104.71" cy="89.5" r="1.55"/><circle cx="104.71" cy="235.0" r="1.55"/><circle cx="111.98" cy="89.5" r="1.55"/><circle cx="111.98" cy="235.0" r="1.55"/><circle cx="119.26" cy="89.5" r="1.55"/><circle cx="119.26" cy="235.0" r="1.55"/><circle cx="126.54" cy="89.5" r="1.55"/><circle cx="126.54" cy="235.0" r="1.55"/><circle cx="133.81" cy="89.5" r="1.55"/><circle cx="133.81" cy="235.0" r="1.55"/><circle cx="141.09" cy="89.5" r="1.55"/><circle cx="141.09" cy="235.0" r="1.55"/><circle cx="148.37" cy="89.5" r="1.55"/><circle cx="148.37" cy="235.0" r="1.55"/><circle cx="155.65" cy="89.5" r="1.55"/><circle cx="155.65" cy="235.0" r="1.55"/><circle cx="162.93" cy="89.5" r="1.55"/><circle cx="162.93" cy="235.0" r="1.55"/><circle cx="170.2" cy="89.5" r="1.55"/><circle cx="170.2" cy="235.0" r="1.55"/><circle cx="177.48" cy="89.5" r="1.55"/><circle cx="177.48" cy="235.0" r="1.55"/><circle cx="184.76" cy="89.5" r="1.55"/><circle cx="184.76" cy="235.0" r="1.55"/><circle cx="192.03" cy="89.5" r="1.55"/><circle cx="192.03" cy="235.0" r="1.55"/><circle cx="199.31" cy="89.5" r="1.55"/><circle cx="199.31" cy="235.0" r="1.55"/><circle cx="206.59" cy="89.5" r="1.55"/><circle cx="206.59" cy="235.0" r="1.55"/><circle cx="213.87" cy="89.5" r="1.55"/><circle cx="213.87" cy="235.0" r="1.55"/><circle cx="221.14" cy="89.5" r="1.55"/><circle cx="221.14" cy="235.0" r="1.55"/><circle cx="228.42" cy="89.5" r="1.55"/><circle cx="228.42" cy="235.0" r="1.55"/><circle cx="235.7" cy="89.5" r="1.55"/><circle cx="235.7" cy="96.78" r="1.55"/><circle cx="235.7" cy="104.05" r="1.55"/><circle cx="235.7" cy="111.33" r="1.55"/><circle cx="235.7" cy="118.6" r="1.55"/><circle cx="235.7" cy="125.88" r="1.55"/><circle cx="235.7" cy="133.15" r="1.55"/><circle cx="235.7" cy="140.43" r="1.55"/><circle cx="235.7" cy="147.7" r="1.55"/><circle cx="235.7" cy="154.98" r="1.55"/><circle cx="235.7" cy="162.25" r="1.55"/><circle cx="235.7" cy="169.53" r="1.55"/><circle cx="235.7" cy="176.8" r="1.55"/><circle cx="235.7" cy="184.07" r="1.55"/><circle cx="235.7" cy="191.35" r="1.55"/><circle cx="235.7" cy="198.62" r="1.55"/><circle cx="235.7" cy="205.9" r="1.55"/><circle cx="235.7" cy="213.18" r="1.55"/><circle cx="235.7" cy="220.45" r="1.55"/><circle cx="235.7" cy="227.72" r="1.55"/><circle cx="235.7" cy="235.0" r="1.55"/></g><rect x="100.3" y="130.4" width="125.00000000000001" height="63.79999999999998" fill="#828282" stroke="#1e1e1e" stroke-width="1"/><g fill="none" stroke="#1a1a1a" stroke-width="0.8"><circle cx="106.3" cy="136.20" r="1.6"/><circle cx="106.3" cy="188.40" r="1.6"/><circle cx="109.9" cy="136.20" r="1.6"/><circle cx="109.9" cy="188.40" r="1.6"/><circle cx="113.5" cy="136.20" r="1.6"/><circle cx="113.5" cy="188.40" r="1.6"/><circle cx="117.1" cy="136.20" r="1.6"/><circle cx="117.1" cy="188.40" r="1.6"/><circle cx="208.4" cy="136.20" r="1.6"/><circle cx="208.4" cy="188.40" r="1.6"/><circle cx="212.0" cy="136.20" r="1.6"/><circle cx="212.0" cy="188.40" r="1.6"/><circle cx="215.6" cy="136.20" r="1.6"/><circle cx="215.6" cy="188.40" r="1.6"/><circle cx="219.2" cy="136.20" r="1.6"/><circle cx="219.2" cy="188.40" r="1.6"/><circle cx="106.2" cy="140.40" r="1.6"/><circle cx="219.4" cy="140.40" r="1.6"/><circle cx="106.2" cy="144.84" r="1.6"/><circle cx="219.4" cy="144.84" r="1.6"/><circle cx="106.2" cy="149.28" r="1.6"/><circle cx="219.4" cy="149.28" r="1.6"/><circle cx="106.2" cy="153.72" r="1.6"/><circle cx="219.4" cy="153.72" r="1.6"/><circle cx="106.2" cy="158.16" r="1.6"/><circle cx="219.4" cy="158.16" r="1.6"/><circle cx="106.2" cy="162.60" r="1.6"/><circle cx="219.4" cy="162.60" r="1.6"/><circle cx="106.2" cy="167.04" r="1.6"/><circle cx="219.4" cy="167.04" r="1.6"/><circle cx="106.2" cy="171.48" r="1.6"/><circle cx="219.4" cy="171.48" r="1.6"/><circle cx="106.2" cy="175.92" r="1.6"/><circle cx="219.4" cy="175.92" r="1.6"/><circle cx="106.2" cy="180.36" r="1.6"/><circle cx="219.4" cy="180.36" r="1.6"/><circle cx="106.2" cy="184.80" r="1.6"/><circle cx="219.4" cy="184.80" r="1.6"/></g><path d="M107.3 140.4H217.8V150.5H193.9V149.5H107.3Z" fill="#4ab5b4" stroke="#1e1e1e" stroke-width="1"/><rect x="107.3" y="175.1" width="110.5" height="9.7" fill="#4ab5b4" stroke="#1e1e1e" stroke-width="1"/><path d="M87.2 313.4H238.6V465.1H87.2Z M93.1 319.6V458.9H232.8V319.6Z" fill="#909090" stroke="#2a2a2a" stroke-width="1" fill-rule="evenodd"/><g fill="none" stroke="#222" stroke-width="0.85"><circle cx="90.15" cy="316.5" r="1.55"/><circle cx="90.15" cy="323.77" r="1.55"/><circle cx="90.15" cy="331.05" r="1.55"/><circle cx="90.15" cy="338.32" r="1.55"/><circle cx="90.15" cy="345.6" r="1.55"/><circle cx="90.15" cy="352.88" r="1.55"/><circle cx="90.15" cy="360.15" r="1.55"/><circle cx="90.15" cy="367.43" r="1.55"/><circle cx="90.15" cy="374.7" r="1.55"/><circle cx="90.15" cy="381.98" r="1.55"/><circle cx="90.15" cy="389.25" r="1.55"/><circle cx="90.15" cy="396.52" r="1.55"/><circle cx="90.15" cy="403.8" r="1.55"/><circle cx="90.15" cy="411.07" r="1.55"/><circle cx="90.15" cy="418.35" r="1.55"/><circle cx="90.15" cy="425.62" r="1.55"/><circle cx="90.15" cy="432.9" r="1.55"/><circle cx="90.15" cy="440.18" r="1.55"/><circle cx="90.15" cy="447.45" r="1.55"/><circle cx="90.15" cy="454.73" r="1.55"/><circle cx="90.15" cy="462.0" r="1.55"/><circle cx="97.43" cy="316.5" r="1.55"/><circle cx="97.43" cy="462.0" r="1.55"/><circle cx="104.71" cy="316.5" r="1.55"/><circle cx="104.71" cy="462.0" r="1.55"/><circle cx="111.98" cy="316.5" r="1.55"/><circle cx="111.98" cy="462.0" r="1.55"/><circle cx="119.26" cy="316.5" r="1.55"/><circle cx="119.26" cy="462.0" r="1.55"/><circle cx="126.54" cy="316.5" r="1.55"/><circle cx="126.54" cy="462.0" r="1.55"/><circle cx="133.81" cy="316.5" r="1.55"/><circle cx="133.81" cy="462.0" r="1.55"/><circle cx="141.09" cy="316.5" r="1.55"/><circle cx="141.09" cy="462.0" r="1.55"/><circle cx="148.37" cy="316.5" r="1.55"/><circle cx="148.37" cy="462.0" r="1.55"/><circle cx="155.65" cy="316.5" r="1.55"/><circle cx="155.65" cy="462.0" r="1.55"/><circle cx="162.93" cy="316.5" r="1.55"/><circle cx="162.93" cy="462.0" r="1.55"/><circle cx="170.2" cy="316.5" r="1.55"/><circle cx="170.2" cy="462.0" r="1.55"/><circle cx="177.48" cy="316.5" r="1.55"/><circle cx="177.48" cy="462.0" r="1.55"/><circle cx="184.76" cy="316.5" r="1.55"/><circle cx="184.76" cy="462.0" r="1.55"/><circle cx="192.03" cy="316.5" r="1.55"/><circle cx="192.03" cy="462.0" r="1.55"/><circle cx="199.31" cy="316.5" r="1.55"/><circle cx="199.31" cy="462.0" r="1.55"/><circle cx="206.59" cy="316.5" r="1.55"/><circle cx="206.59" cy="462.0" r="1.55"/><circle cx="213.87" cy="316.5" r="1.55"/><circle cx="213.87" cy="462.0" r="1.55"/><circle cx="221.14" cy="316.5" r="1.55"/><circle cx="221.14" cy="462.0" r="1.55"/><circle cx="228.42" cy="316.5" r="1.55"/><circle cx="228.42" cy="462.0" r="1.55"/><circle cx="235.7" cy="316.5" r="1.55"/><circle cx="235.7" cy="323.77" r="1.55"/><circle cx="235.7" cy="331.05" r="1.55"/><circle cx="235.7" cy="338.32" r="1.55"/><circle cx="235.7" cy="345.6" r="1.55"/><circle cx="235.7" cy="352.88" r="1.55"/><circle cx="235.7" cy="360.15" r="1.55"/><circle cx="235.7" cy="367.43" r="1.55"/><circle cx="235.7" cy="374.7" r="1.55"/><circle cx="235.7" cy="381.98" r="1.55"/><circle cx="235.7" cy="389.25" r="1.55"/><circle cx="235.7" cy="396.52" r="1.55"/><circle cx="235.7" cy="403.8" r="1.55"/><circle cx="235.7" cy="411.07" r="1.55"/><circle cx="235.7" cy="418.35" r="1.55"/><circle cx="235.7" cy="425.62" r="1.55"/><circle cx="235.7" cy="432.9" r="1.55"/><circle cx="235.7" cy="440.18" r="1.55"/><circle cx="235.7" cy="447.45" r="1.55"/><circle cx="235.7" cy="454.73" r="1.55"/><circle cx="235.7" cy="462.0" r="1.55"/></g><rect x="100.3" y="357.4" width="125.00000000000001" height="63.80000000000001" fill="#828282" stroke="#1e1e1e" stroke-width="1"/><g fill="none" stroke="#1a1a1a" stroke-width="0.8"><circle cx="106.3" cy="363.20" r="1.6"/><circle cx="106.3" cy="415.40" r="1.6"/><circle cx="109.9" cy="363.20" r="1.6"/><circle cx="109.9" cy="415.40" r="1.6"/><circle cx="113.5" cy="363.20" r="1.6"/><circle cx="113.5" cy="415.40" r="1.6"/><circle cx="117.1" cy="363.20" r="1.6"/><circle cx="117.1" cy="415.40" r="1.6"/><circle cx="208.4" cy="363.20" r="1.6"/><circle cx="208.4" cy="415.40" r="1.6"/><circle cx="212.0" cy="363.20" r="1.6"/><circle cx="212.0" cy="415.40" r="1.6"/><circle cx="215.6" cy="363.20" r="1.6"/><circle cx="215.6" cy="415.40" r="1.6"/><circle cx="219.2" cy="363.20" r="1.6"/><circle cx="219.2" cy="415.40" r="1.6"/><circle cx="106.2" cy="367.40" r="1.6"/><circle cx="219.4" cy="367.40" r="1.6"/><circle cx="106.2" cy="371.84" r="1.6"/><circle cx="219.4" cy="371.84" r="1.6"/><circle cx="106.2" cy="376.28" r="1.6"/><circle cx="219.4" cy="376.28" r="1.6"/><circle cx="106.2" cy="380.72" r="1.6"/><circle cx="219.4" cy="380.72" r="1.6"/><circle cx="106.2" cy="385.16" r="1.6"/><circle cx="219.4" cy="385.16" r="1.6"/><circle cx="106.2" cy="389.60" r="1.6"/><circle cx="219.4" cy="389.60" r="1.6"/><circle cx="106.2" cy="394.04" r="1.6"/><circle cx="219.4" cy="394.04" r="1.6"/><circle cx="106.2" cy="398.48" r="1.6"/><circle cx="219.4" cy="398.48" r="1.6"/><circle cx="106.2" cy="402.92" r="1.6"/><circle cx="219.4" cy="402.92" r="1.6"/><circle cx="106.2" cy="407.36" r="1.6"/><circle cx="219.4" cy="407.36" r="1.6"/><circle cx="106.2" cy="411.80" r="1.6"/><circle cx="219.4" cy="411.80" r="1.6"/></g><rect x="107.3" y="367.4" width="110.5" height="9.4" fill="#4ab5b4" stroke="#1e1e1e" stroke-width="1"/><path d="M107.3 402.1H217.8V411.6H138.9V410.5H107.3Z" fill="#4ab5b4" stroke="#1e1e1e" stroke-width="1"/><circle cx="201.3" cy="162.2" r="2.8" fill="none" stroke="#1a1a1a" stroke-width="1.1"/><circle cx="200.9" cy="389.2" r="2.8" fill="none" stroke="#1a1a1a" stroke-width="1.1"/><path d="M200.5 166V387" stroke="#e6e13c" stroke-opacity="0.55" stroke-width="1"/><g stroke="#e4e23c" stroke-width="1.1" fill="none"><path d="M197.2 169.8L201 164.2L204.6 169.8"/><path d="M197.2 384.3L200.8 389.8L204.6 384.3"/></g><circle cx="200.9" cy="389.5" r="1.4" fill="#e6e030"/><circle cx="201.1" cy="164.6" r="1.1" fill="#e6e030"/><g fill="#3a4cb2" stroke="none"><rect x="40.9" y="268" width="2" height="24.7"/><rect x="40.9" y="290.7" width="27" height="2"/><path d="M41.9 263.2L45.5 269.9H38.3Z"/><path d="M73.2 291.7L66.5 288.1V295.3Z"/></g><text x="48.5" y="271.2" font-family="Liberation Serif" font-style="italic" font-size="20" fill="#3a4cb2">y</text><text x="66.3" y="285.2" font-family="Liberation Serif" font-style="italic" font-size="20" fill="#3a4cb2">x</text><text x="169.2" y="282.4" font-family="Liberation Serif" font-style="italic" font-size="19.5" fill="#111">Dy</text><text x="26.2" y="502.6" font-family="Liberation Serif" font-size="23" fill="#111">(a)</text><g fill="none" stroke-linejoin="round"><path d="M377,17.6 L449,27.4 L524,27.6 L578,34" stroke="#404040" stroke-width="0.9"/><path d="M377,26 L420,34 L449,42 L524,42.2 L534,44" stroke="#404040" stroke-width="0.9"/><path d="M549,48.2 L594,62.4" stroke="#404040" stroke-width="0.9"/><path d="M488,224.3 L524,214 L564,206 L594,201" stroke="#404040" stroke-width="0.9"/><path d="M377,39.6 L400,44 L410,47 L412.5,49.5 L410,51.5 L400,53.5 L377,56.4" stroke="#6a5055" stroke-width="1.0"/><path d="M377,57 L396,59.6 L412,63 L416,67 L419,69.6 L426,75 L429.6,80 L436,88 L449,101 L486,103.4 L500,104.8 L508,106 L513,108.2 L517,111.5 L519.3,115 L519.8,118.5" stroke="#6a5055" stroke-width="1.0"/><path d="M512.3,130.3 L509,138.5 L505.3,146.7 L500.5,154.5 L494.4,161.6 L484,169.5 L472.7,176.6 L461,183 L449.5,188.8 L377,187" stroke="#6a5055" stroke-width="1.0"/></g><g clip-path="url(#clb)"><text class="t2" x="586.6" y="38.0" text-anchor="middle" font-family="Liberation Serif" font-size="11.2" fill="#1a1a1a">-20</text><text class="t2" x="541.8" y="49.8" text-anchor="middle" font-family="Liberation Serif" font-size="11.2" fill="#1a1a1a">-15</text><text class="t2" x="515" y="128.9" text-anchor="middle" font-family="Liberation Serif" font-size="11.2" fill="#1a1a1a">-10</text></g><rect x="376.7" y="16.2" width="217.2" height="208.10000000000002" fill="none" stroke="#3a3a3a" stroke-width="0.8"/><path d="M376.7 16.2V224.3" stroke="#8a8a8a" stroke-width="1.3"/><path d="M376.09999999999997 224.3H593.9" stroke="#2a2a2a" stroke-width="1"/><path d="M372.9 16.20H376.7M374.4 31.06H376.7M372.9 45.93H376.7M374.4 60.79H376.7M372.9 75.66H376.7M374.4 90.52H376.7M372.9 105.39H376.7M374.4 120.25H376.7M372.9 135.11H376.7M374.4 149.98H376.7M372.9 164.84H376.7M374.4 179.71H376.7M372.9 194.57H376.7M374.4 209.44H376.7M372.9 224.30H376.7M400.10 224.3v3.2M428.92 224.3v3.2M457.73 224.3v3.2M486.55 224.3v3.2M515.36 224.3v3.2M544.17 224.3v3.2M572.99 224.3v3.2M385.69 224.3v2M414.51 224.3v2M443.32 224.3v2M472.14 224.3v2M500.95 224.3v2M529.77 224.3v2M558.58 224.3v2M587.40 224.3v2" stroke="#333" stroke-width="0.9"/><text class="t" x="369.2" y="19.10" text-anchor="end" font-family="Liberation Serif" font-size="8.6" fill="#222">6.1</text><text class="t" x="369.2" y="48.83" text-anchor="end" font-family="Liberation Serif" font-size="8.6" fill="#222">6.0</text><text class="t" x="369.2" y="78.56" text-anchor="end" font-family="Liberation Serif" font-size="8.6" fill="#222">5.9</text><text class="t" x="369.2" y="108.29" text-anchor="end" font-family="Liberation Serif" font-size="8.6" fill="#222">5.8</text><text class="t" x="369.2" y="138.01" text-anchor="end" font-family="Liberation Serif" font-size="8.6" fill="#222">5.7</text><text class="t" x="369.2" y="167.74" text-anchor="end" font-family="Liberation Serif" font-size="8.6" fill="#222">5.6</text><text class="t" x="369.2" y="197.47" text-anchor="end" font-family="Liberation Serif" font-size="8.6" fill="#222">5.5</text><text class="t" x="369.2" y="227.20" text-anchor="end" font-family="Liberation Serif" font-size="8.6" fill="#222">5.4</text><text class="t" x="400.10" y="238.2" text-anchor="middle" font-family="Liberation Serif" font-size="8.6" fill="#222">30</text><text class="t" x="428.92" y="238.2" text-anchor="middle" font-family="Liberation Serif" font-size="8.6" fill="#222">35</text><text class="t" x="457.73" y="238.2" text-anchor="middle" font-family="Liberation Serif" font-size="8.6" fill="#222">40</text><text class="t" x="486.55" y="238.2" text-anchor="middle" font-family="Liberation Serif" font-size="8.6" fill="#222">45</text><text class="t" x="515.36" y="238.2" text-anchor="middle" font-family="Liberation Serif" font-size="8.6" fill="#222">50</text><text class="t" x="544.17" y="238.2" text-anchor="middle" font-family="Liberation Serif" font-size="8.6" fill="#222">55</text><text class="t" x="572.99" y="238.2" text-anchor="middle" font-family="Liberation Serif" font-size="8.6" fill="#222">60</text><text class="t" x="485.3" y="255.0" text-anchor="middle" font-family="Liberation Serif" font-size="11" fill="#111"><tspan font-style="italic">Dy</tspan> (mm)</text><text class="t" transform="translate(353.9 120.2) rotate(-90)" text-anchor="middle" font-family="Liberation Serif" font-size="10.9" fill="#111">Frequency (GHz)</text><text x="384.6" y="214.4" font-family="Liberation Serif" font-size="22" fill="#111">(b)</text><rect x="628.6" y="16" width="11.1" height="208.5" fill="url(#cbgb)" stroke="#555" stroke-width="0.9"/><text class="t" x="647.6" y="23.20" font-family="Liberation Serif" font-size="8.6" fill="#222">-10</text><text class="t" x="647.6" y="48.20" font-family="Liberation Serif" font-size="8.6" fill="#222">-14</text><text class="t" x="647.6" y="73.20" font-family="Liberation Serif" font-size="8.6" fill="#222">-18</text><text class="t" x="647.6" y="98.20" font-family="Liberation Serif" font-size="8.6" fill="#222">-21</text><text class="t" x="647.6" y="123.20" font-family="Liberation Serif" font-size="8.6" fill="#222">-25</text><text class="t" x="647.6" y="148.20" font-family="Liberation Serif" font-size="8.6" fill="#222">-29</text><text class="t" x="647.6" y="173.20" font-family="Liberation Serif" font-size="8.6" fill="#222">-33</text><text class="t" x="647.6" y="198.20" font-family="Liberation Serif" font-size="8.6" fill="#222">-36</text><text class="t" x="647.6" y="223.20" font-family="Liberation Serif" font-size="8.6" fill="#222">-40</text><path d="M639.7 20.30h3.8M639.7 45.30h3.8M639.7 70.30h3.8M639.7 95.30h3.8M639.7 120.30h3.8M639.7 145.30h3.8M639.7 170.30h3.8M639.7 195.30h3.8M639.7 220.30h3.8" stroke="#333" stroke-width="0.9"/><text class="t" x="614.8" y="8.6" font-family="Liberation Serif" font-size="10.6" fill="#111">S21 (dB)</text><g fill="none" stroke-linejoin="round"><path d="M377,314.4 L486,319.6 L513,321" stroke="#404040" stroke-width="0.9"/><path d="M528,321.6 L594,325" stroke="#404040" stroke-width="0.9"/><path d="M377,327 L447,336" stroke="#404040" stroke-width="0.9"/><path d="M463,337.2 L486,339 L534,345 L564,352 L594,363" stroke="#404040" stroke-width="0.9"/><path d="M377,338.1 L396.3,341 L403.6,343 L406.5,346 L411,350 L434,356 L463,367.8 L498,381 L508,385 L515.5,389.6 L520.5,395.5 L524,402 L525.7,408.5 L525.2,414.3 L522.5,420 L518.4,426" stroke="#404040" stroke-width="0.9"/><path d="M501,442 L472,460.8 L448.7,472.4 L377,478.3" stroke="#404040" stroke-width="0.9"/><path d="M392,517 L448,511 L486,499 L522,485 L579,472" stroke="#404040" stroke-width="0.9"/></g><g clip-path="url(#clc)"><text class="t2" x="520.5" y="325.0" text-anchor="middle" font-family="Liberation Serif" font-size="11.2" fill="#1a1a1a">-30</text><text class="t2" x="455.2" y="340.5" text-anchor="middle" font-family="Liberation Serif" font-size="11.2" fill="#1a1a1a">-20</text><text class="t2" x="512" y="437.7" text-anchor="middle" font-family="Liberation Serif" font-size="11.2" fill="#1a1a1a">-15</text><text class="t2" x="586.6" y="474.5" text-anchor="middle" font-family="Liberation Serif" font-size="11.2" fill="#1a1a1a">-20</text></g><rect x="376.7" y="308.3" width="217.2" height="208.7" fill="none" stroke="#3a3a3a" stroke-width="0.8"/><path d="M376.7 308.3V517.0" stroke="#8a8a8a" stroke-width="1.3"/><path d="M376.09999999999997 517.0H593.9" stroke="#2a2a2a" stroke-width="1"/><path d="M372.9 308.30H376.7M374.4 323.21H376.7M372.9 338.11H376.7M374.4 353.02H376.7M372.9 367.93H376.7M374.4 382.84H376.7M372.9 397.74H376.7M374.4 412.65H376.7M372.9 427.56H376.7M374.4 442.46H376.7M372.9 457.37H376.7M374.4 472.28H376.7M372.9 487.19H376.7M374.4 502.09H376.7M372.9 517.00H376.7M400.10 517.0v3.2M428.92 517.0v3.2M457.73 517.0v3.2M486.55 517.0v3.2M515.36 517.0v3.2M544.17 517.0v3.2M572.99 517.0v3.2M385.69 517.0v2M414.51 517.0v2M443.32 517.0v2M472.14 517.0v2M500.95 517.0v2M529.77 517.0v2M558.58 517.0v2M587.40 517.0v2" stroke="#333" stroke-width="0.9"/><text class="t" x="369.2" y="311.20" text-anchor="end" font-family="Liberation Serif" font-size="8.6" fill="#222">6.1</text><text class="t" x="369.2" y="341.01" text-anchor="end" font-family="Liberation Serif" font-size="8.6" fill="#222">6.0</text><text class="t" x="369.2" y="370.83" text-anchor="end" font-family="Liberation Serif" font-size="8.6" fill="#222">5.9</text><text class="t" x="369.2" y="400.64" text-anchor="end" font-family="Liberation Serif" font-size="8.6" fill="#222">5.8</text><text class="t" x="369.2" y="430.46" text-anchor="end" font-family="Liberation Serif" font-size="8.6" fill="#222">5.7</text><text class="t" x="369.2" y="460.27" text-anchor="end" font-family="Liberation Serif" font-size="8.6" fill="#222">5.6</text><text class="t" x="369.2" y="490.09" text-anchor="end" font-family="Liberation Serif" font-size="8.6" fill="#222">5.5</text><text class="t" x="369.2" y="519.90" text-anchor="end" font-family="Liberation Serif" font-size="8.6" fill="#222">5.4</text><text class="t" x="400.10" y="530.4" text-anchor="middle" font-family="Liberation Serif" font-size="8.6" fill="#222">30</text><text class="t" x="428.92" y="530.4" text-anchor="middle" font-family="Liberation Serif" font-size="8.6" fill="#222">35</text><text class="t" x="457.73" y="530.4" text-anchor="middle" font-family="Liberation Serif" font-size="8.6" fill="#222">40</text><text class="t" x="486.55" y="530.4" text-anchor="middle" font-family="Liberation Serif" font-size="8.6" fill="#222">45</text><text class="t" x="515.36" y="530.4" text-anchor="middle" font-family="Liberation Serif" font-size="8.6" fill="#222">50</text><text class="t" x="544.17" y="530.4" text-anchor="middle" font-family="Liberation Serif" font-size="8.6" fill="#222">55</text><text class="t" x="572.99" y="530.4" text-anchor="middle" font-family="Liberation Serif" font-size="8.6" fill="#222">60</text><text class="t" x="485.3" y="547.2" text-anchor="middle" font-family="Liberation Serif" font-size="11" fill="#111"><tspan font-style="italic">Dy</tspan> (mm)</text><text class="t" transform="translate(353.9 412.6) rotate(-90)" text-anchor="middle" font-family="Liberation Serif" font-size="10.9" fill="#111">Frequency (GHz)</text><text x="384.6" y="502.4" font-family="Liberation Serif" font-size="22" fill="#111">(c)</text><rect x="628.6" y="308.3" width="11.1" height="208.7" fill="url(#cbgc)" stroke="#555" stroke-width="0.9"/><text class="t" x="647.6" y="315.40" font-family="Liberation Serif" font-size="8.6" fill="#222">-10</text><text class="t" x="647.6" y="340.40" font-family="Liberation Serif" font-size="8.6" fill="#222">-14</text><text class="t" x="647.6" y="365.40" font-family="Liberation Serif" font-size="8.6" fill="#222">-18</text><text class="t" x="647.6" y="390.40" font-family="Liberation Serif" font-size="8.6" fill="#222">-21</text><text class="t" x="647.6" y="415.40" font-family="Liberation Serif" font-size="8.6" fill="#222">-25</text><text class="t" x="647.6" y="440.40" font-family="Liberation Serif" font-size="8.6" fill="#222">-29</text><text class="t" x="647.6" y="465.40" font-family="Liberation Serif" font-size="8.6" fill="#222">-33</text><text class="t" x="647.6" y="490.40" font-family="Liberation Serif" font-size="8.6" fill="#222">-36</text><text class="t" x="647.6" y="515.40" font-family="Liberation Serif" font-size="8.6" fill="#222">-40</text><path d="M639.7 312.50h3.8M639.7 337.50h3.8M639.7 362.50h3.8M639.7 387.50h3.8M639.7 412.50h3.8M639.7 437.50h3.8M639.7 462.50h3.8M639.7 487.50h3.8M639.7 512.50h3.8" stroke="#333" stroke-width="0.9"/><text class="t" x="614.8" y="300.6" font-family="Liberation Serif" font-size="10.6" fill="#111">S21 (dB)</text></svg>
</body></html>
